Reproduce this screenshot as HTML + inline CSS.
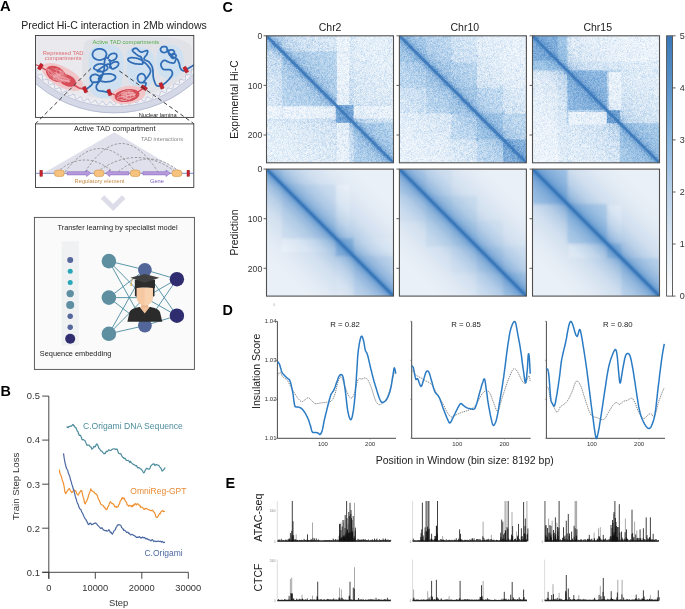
<!DOCTYPE html>
<html><head><meta charset="utf-8"><style>
html,body{margin:0;padding:0;background:#fff;}
body{width:685px;height:609px;overflow:hidden;}
svg{display:block;font-family:"Liberation Sans", sans-serif;will-change:transform;}
</style></head><body>
<svg width="685" height="609" viewBox="0 0 685 609">
<defs>
<clipPath id="cb1"><rect x="35.5" y="35.5" width="158.3" height="81.9"/></clipPath>
<filter id="nzw" x="0" y="0" width="1" height="1" color-interpolation-filters="sRGB">
<feTurbulence type="fractalNoise" baseFrequency="1.45" numOctaves="1" seed="4" result="t"/>
<feColorMatrix in="t" type="matrix" values="0 0 0 0 1  0 0 0 0 1  0 0 0 0 1  2.2 0 0 0 -0.7"/>
</filter>
<filter id="nzl" x="0" y="0" width="1" height="1" color-interpolation-filters="sRGB">
<feTurbulence type="fractalNoise" baseFrequency="0.33" numOctaves="2" seed="21" result="t"/>
<feColorMatrix in="t" type="matrix" values="0 0 0 0 1  0 0 0 0 1  0 0 0 0 1  4.0 0 0 0 -1.75"/>
</filter>
<filter id="nzb" x="0" y="0" width="1" height="1" color-interpolation-filters="sRGB">
<feTurbulence type="fractalNoise" baseFrequency="2.3" numOctaves="1" seed="9" result="t"/>
<feColorMatrix in="t" type="matrix" values="0 0 0 0 0.32  0 0 0 0 0.56  0 0 0 0 0.82  0 2.0 0 0 -0.75"/>
</filter>
<filter id="soft" x="-5%" y="-5%" width="110%" height="110%"><feGaussianBlur stdDeviation="1.3"/></filter>
<clipPath id="hc0"><rect x="266.5" y="35.8" width="127.0" height="127.0"/></clipPath>
<linearGradient id="dg0" x1="1" y1="0" x2="0" y2="1"><stop offset="0.0000" stop-color="#3a7cc0" stop-opacity="0.0"/><stop offset="0.1000" stop-color="#3a7cc0" stop-opacity="0.0"/><stop offset="0.2500" stop-color="#3a7cc0" stop-opacity="0.06"/><stop offset="0.4000" stop-color="#3a7cc0" stop-opacity="0.18"/><stop offset="0.4600" stop-color="#3a7cc0" stop-opacity="0.33"/><stop offset="0.4800" stop-color="#3a7cc0" stop-opacity="0.52"/><stop offset="0.4900" stop-color="#3a7cc0" stop-opacity="0.78"/><stop offset="0.5000" stop-color="#3a7cc0" stop-opacity="0.95"/><stop offset="0.5100" stop-color="#3a7cc0" stop-opacity="0.78"/><stop offset="0.5200" stop-color="#3a7cc0" stop-opacity="0.52"/><stop offset="0.5400" stop-color="#3a7cc0" stop-opacity="0.33"/><stop offset="0.6000" stop-color="#3a7cc0" stop-opacity="0.18"/><stop offset="0.7500" stop-color="#3a7cc0" stop-opacity="0.06"/><stop offset="0.9000" stop-color="#3a7cc0" stop-opacity="0.0"/><stop offset="1.0000" stop-color="#3a7cc0" stop-opacity="0.0"/></linearGradient>
<linearGradient id="dg0m" x1="1" y1="0" x2="0" y2="1"><stop offset="0.0000" stop-color="#000" stop-opacity="0.0"/><stop offset="0.1000" stop-color="#000" stop-opacity="0.0"/><stop offset="0.2500" stop-color="#000" stop-opacity="0.06"/><stop offset="0.4000" stop-color="#000" stop-opacity="0.18"/><stop offset="0.4600" stop-color="#000" stop-opacity="0.33"/><stop offset="0.4800" stop-color="#000" stop-opacity="0.52"/><stop offset="0.4900" stop-color="#000" stop-opacity="0.78"/><stop offset="0.5000" stop-color="#000" stop-opacity="0.95"/><stop offset="0.5100" stop-color="#000" stop-opacity="0.78"/><stop offset="0.5200" stop-color="#000" stop-opacity="0.52"/><stop offset="0.5400" stop-color="#000" stop-opacity="0.33"/><stop offset="0.6000" stop-color="#000" stop-opacity="0.18"/><stop offset="0.7500" stop-color="#000" stop-opacity="0.06"/><stop offset="0.9000" stop-color="#000" stop-opacity="0.0"/><stop offset="1.0000" stop-color="#000" stop-opacity="0.0"/></linearGradient>
<mask id="hm0" maskUnits="userSpaceOnUse" x="266.5" y="35.8" width="127.0" height="127.0"><rect x="266.5" y="35.8" width="127.0" height="127.0" fill="#fff"/><g opacity="0.6"><rect x="282.12" y="51.42" width="53.59" height="53.59" fill="#000" fill-opacity="0.45"/><rect x="266.50" y="35.80" width="15.62" height="15.62" fill="#000" fill-opacity="0.35"/><rect x="335.72" y="105.02" width="17.91" height="17.91" fill="#000" fill-opacity="0.85"/><rect x="353.62" y="122.92" width="39.88" height="39.88" fill="#000" fill-opacity="0.5"/><rect x="266.50" y="122.92" width="69.22" height="39.88" fill="#ffffff" fill-opacity="0.32"/><rect x="353.62" y="35.80" width="39.88" height="69.22" fill="#ffffff" fill-opacity="0.32"/><rect x="266.50" y="51.42" width="15.62" height="53.59" fill="#ffffff" fill-opacity="0.1"/><rect x="282.12" y="35.80" width="53.59" height="15.62" fill="#ffffff" fill-opacity="0.1"/><rect x="266.5" y="35.8" width="127.0" height="127.0" fill="url(#dg0m)"/><rect x="336.73" y="35.80" width="12.57" height="69.22" fill="#ffffff" fill-opacity="0.65"/><rect x="266.50" y="106.03" width="69.22" height="12.57" fill="#ffffff" fill-opacity="0.65"/><rect x="353.62" y="106.03" width="39.88" height="12.57" fill="#ffffff" fill-opacity="0.6"/><rect x="336.73" y="122.92" width="12.57" height="39.88" fill="#ffffff" fill-opacity="0.6"/><rect x="335.72" y="51.42" width="1.40" height="53.59" fill="#000" fill-opacity="0.35"/><rect x="282.12" y="105.02" width="53.59" height="1.40" fill="#000" fill-opacity="0.35"/><rect x="336.73" y="51.04" width="12.57" height="1.52" fill="#000" fill-opacity="0.3"/><rect x="281.74" y="106.03" width="1.52" height="12.57" fill="#000" fill-opacity="0.3"/></g></mask>
<clipPath id="hc1"><rect x="399.4" y="35.8" width="127.0" height="127.0"/></clipPath>
<linearGradient id="dg1" x1="1" y1="0" x2="0" y2="1"><stop offset="0.0000" stop-color="#3a7cc0" stop-opacity="0.0"/><stop offset="0.1000" stop-color="#3a7cc0" stop-opacity="0.0"/><stop offset="0.2500" stop-color="#3a7cc0" stop-opacity="0.06"/><stop offset="0.4000" stop-color="#3a7cc0" stop-opacity="0.18"/><stop offset="0.4600" stop-color="#3a7cc0" stop-opacity="0.33"/><stop offset="0.4800" stop-color="#3a7cc0" stop-opacity="0.52"/><stop offset="0.4900" stop-color="#3a7cc0" stop-opacity="0.78"/><stop offset="0.5000" stop-color="#3a7cc0" stop-opacity="0.95"/><stop offset="0.5100" stop-color="#3a7cc0" stop-opacity="0.78"/><stop offset="0.5200" stop-color="#3a7cc0" stop-opacity="0.52"/><stop offset="0.5400" stop-color="#3a7cc0" stop-opacity="0.33"/><stop offset="0.6000" stop-color="#3a7cc0" stop-opacity="0.18"/><stop offset="0.7500" stop-color="#3a7cc0" stop-opacity="0.06"/><stop offset="0.9000" stop-color="#3a7cc0" stop-opacity="0.0"/><stop offset="1.0000" stop-color="#3a7cc0" stop-opacity="0.0"/></linearGradient>
<linearGradient id="dg1m" x1="1" y1="0" x2="0" y2="1"><stop offset="0.0000" stop-color="#000" stop-opacity="0.0"/><stop offset="0.1000" stop-color="#000" stop-opacity="0.0"/><stop offset="0.2500" stop-color="#000" stop-opacity="0.06"/><stop offset="0.4000" stop-color="#000" stop-opacity="0.18"/><stop offset="0.4600" stop-color="#000" stop-opacity="0.33"/><stop offset="0.4800" stop-color="#000" stop-opacity="0.52"/><stop offset="0.4900" stop-color="#000" stop-opacity="0.78"/><stop offset="0.5000" stop-color="#000" stop-opacity="0.95"/><stop offset="0.5100" stop-color="#000" stop-opacity="0.78"/><stop offset="0.5200" stop-color="#000" stop-opacity="0.52"/><stop offset="0.5400" stop-color="#000" stop-opacity="0.33"/><stop offset="0.6000" stop-color="#000" stop-opacity="0.18"/><stop offset="0.7500" stop-color="#000" stop-opacity="0.06"/><stop offset="0.9000" stop-color="#000" stop-opacity="0.0"/><stop offset="1.0000" stop-color="#000" stop-opacity="0.0"/></linearGradient>
<mask id="hm1" maskUnits="userSpaceOnUse" x="399.4" y="35.8" width="127.0" height="127.0"><rect x="399.4" y="35.8" width="127.0" height="127.0" fill="#fff"/><g opacity="0.6"><rect x="399.40" y="35.80" width="26.67" height="26.67" fill="#000" fill-opacity="0.6"/><rect x="426.07" y="62.47" width="50.80" height="50.80" fill="#000" fill-opacity="0.45"/><rect x="426.07" y="62.47" width="25.40" height="25.40" fill="#000" fill-opacity="0.2"/><rect x="451.47" y="87.87" width="25.40" height="25.40" fill="#000" fill-opacity="0.2"/><rect x="476.87" y="113.27" width="26.16" height="26.16" fill="#000" fill-opacity="0.7"/><rect x="503.03" y="139.43" width="23.37" height="23.37" fill="#000" fill-opacity="0.75"/><rect x="399.40" y="62.47" width="26.67" height="25.40" fill="#000" fill-opacity="0.3"/><rect x="426.07" y="35.80" width="25.40" height="26.67" fill="#000" fill-opacity="0.3"/><rect x="451.47" y="113.27" width="25.40" height="26.16" fill="#000" fill-opacity="0.3"/><rect x="476.87" y="87.87" width="26.16" height="25.40" fill="#000" fill-opacity="0.3"/><rect x="476.87" y="139.43" width="26.16" height="23.37" fill="#000" fill-opacity="0.35"/><rect x="503.03" y="113.27" width="23.37" height="26.16" fill="#000" fill-opacity="0.35"/><rect x="426.07" y="35.80" width="50.80" height="26.67" fill="#000" fill-opacity="0.12"/><rect x="399.40" y="62.47" width="26.67" height="50.80" fill="#000" fill-opacity="0.12"/><rect x="399.40" y="113.27" width="52.07" height="49.53" fill="#ffffff" fill-opacity="0.35"/><rect x="476.87" y="35.80" width="49.53" height="52.07" fill="#ffffff" fill-opacity="0.35"/><rect x="451.47" y="35.80" width="25.40" height="26.67" fill="#ffffff" fill-opacity="0.1"/><rect x="399.40" y="87.87" width="26.67" height="25.40" fill="#ffffff" fill-opacity="0.1"/><rect x="503.03" y="35.80" width="23.37" height="77.47" fill="#ffffff" fill-opacity="0.15"/><rect x="399.40" y="139.43" width="77.47" height="23.37" fill="#ffffff" fill-opacity="0.15"/><rect x="415.91" y="86.60" width="2.54" height="2.54" fill="#000" fill-opacity="0.3"/><rect x="450.20" y="52.31" width="2.54" height="2.54" fill="#000" fill-opacity="0.3"/><rect x="450.20" y="59.93" width="2.54" height="2.54" fill="#000" fill-opacity="0.3"/><rect x="423.53" y="86.60" width="2.54" height="2.54" fill="#000" fill-opacity="0.3"/><rect x="475.60" y="54.85" width="2.54" height="2.54" fill="#000" fill-opacity="0.3"/><rect x="418.45" y="112.00" width="2.54" height="2.54" fill="#000" fill-opacity="0.3"/><rect x="475.60" y="86.60" width="2.54" height="2.54" fill="#000" fill-opacity="0.3"/><rect x="450.20" y="112.00" width="2.54" height="2.54" fill="#000" fill-opacity="0.3"/><rect x="501.76" y="112.00" width="2.54" height="2.54" fill="#000" fill-opacity="0.3"/><rect x="475.60" y="138.16" width="2.54" height="2.54" fill="#000" fill-opacity="0.3"/><rect x="501.76" y="112.00" width="2.54" height="2.54" fill="#000" fill-opacity="0.3"/><rect x="475.60" y="138.16" width="2.54" height="2.54" fill="#000" fill-opacity="0.3"/><rect x="450.20" y="136.13" width="2.54" height="2.54" fill="#000" fill-opacity="0.3"/><rect x="499.73" y="86.60" width="2.54" height="2.54" fill="#000" fill-opacity="0.3"/><rect x="399.4" y="35.8" width="127.0" height="127.0" fill="url(#dg1m)"/></g></mask>
<clipPath id="hc2"><rect x="532.5" y="35.8" width="127.0" height="127.0"/></clipPath>
<linearGradient id="dg2" x1="1" y1="0" x2="0" y2="1"><stop offset="0.0000" stop-color="#3a7cc0" stop-opacity="0.0"/><stop offset="0.1000" stop-color="#3a7cc0" stop-opacity="0.0"/><stop offset="0.2500" stop-color="#3a7cc0" stop-opacity="0.06"/><stop offset="0.4000" stop-color="#3a7cc0" stop-opacity="0.18"/><stop offset="0.4600" stop-color="#3a7cc0" stop-opacity="0.33"/><stop offset="0.4800" stop-color="#3a7cc0" stop-opacity="0.52"/><stop offset="0.4900" stop-color="#3a7cc0" stop-opacity="0.78"/><stop offset="0.5000" stop-color="#3a7cc0" stop-opacity="0.95"/><stop offset="0.5100" stop-color="#3a7cc0" stop-opacity="0.78"/><stop offset="0.5200" stop-color="#3a7cc0" stop-opacity="0.52"/><stop offset="0.5400" stop-color="#3a7cc0" stop-opacity="0.33"/><stop offset="0.6000" stop-color="#3a7cc0" stop-opacity="0.18"/><stop offset="0.7500" stop-color="#3a7cc0" stop-opacity="0.06"/><stop offset="0.9000" stop-color="#3a7cc0" stop-opacity="0.0"/><stop offset="1.0000" stop-color="#3a7cc0" stop-opacity="0.0"/></linearGradient>
<linearGradient id="dg2m" x1="1" y1="0" x2="0" y2="1"><stop offset="0.0000" stop-color="#000" stop-opacity="0.0"/><stop offset="0.1000" stop-color="#000" stop-opacity="0.0"/><stop offset="0.2500" stop-color="#000" stop-opacity="0.06"/><stop offset="0.4000" stop-color="#000" stop-opacity="0.18"/><stop offset="0.4600" stop-color="#000" stop-opacity="0.33"/><stop offset="0.4800" stop-color="#000" stop-opacity="0.52"/><stop offset="0.4900" stop-color="#000" stop-opacity="0.78"/><stop offset="0.5000" stop-color="#000" stop-opacity="0.95"/><stop offset="0.5100" stop-color="#000" stop-opacity="0.78"/><stop offset="0.5200" stop-color="#000" stop-opacity="0.52"/><stop offset="0.5400" stop-color="#000" stop-opacity="0.33"/><stop offset="0.6000" stop-color="#000" stop-opacity="0.18"/><stop offset="0.7500" stop-color="#000" stop-opacity="0.06"/><stop offset="0.9000" stop-color="#000" stop-opacity="0.0"/><stop offset="1.0000" stop-color="#000" stop-opacity="0.0"/></linearGradient>
<mask id="hm2" maskUnits="userSpaceOnUse" x="532.5" y="35.8" width="127.0" height="127.0"><rect x="532.5" y="35.8" width="127.0" height="127.0" fill="#fff"/><g opacity="0.6"><rect x="532.50" y="35.80" width="35.56" height="34.29" fill="#000" fill-opacity="0.5"/><rect x="532.50" y="35.80" width="34.29" height="35.56" fill="#000" fill-opacity="0.5"/><rect x="532.50" y="35.80" width="25.40" height="24.13" fill="#000" fill-opacity="0.35"/><rect x="532.50" y="35.80" width="24.13" height="25.40" fill="#000" fill-opacity="0.35"/><rect x="566.79" y="71.36" width="40.00" height="38.73" fill="#000" fill-opacity="0.6"/><rect x="568.06" y="70.09" width="38.73" height="40.00" fill="#000" fill-opacity="0.6"/><rect x="606.79" y="110.09" width="13.08" height="13.08" fill="#000" fill-opacity="0.9"/><rect x="619.88" y="123.18" width="39.62" height="39.62" fill="#000" fill-opacity="0.7"/><rect x="570.60" y="35.80" width="88.90" height="34.29" fill="#ffffff" fill-opacity="0.45"/><rect x="532.50" y="73.90" width="34.29" height="88.90" fill="#ffffff" fill-opacity="0.45"/><rect x="566.79" y="35.80" width="92.71" height="25.40" fill="#ffffff" fill-opacity="0.2"/><rect x="532.50" y="70.09" width="25.40" height="92.71" fill="#ffffff" fill-opacity="0.2"/><rect x="566.79" y="61.20" width="92.71" height="10.16" fill="#000" fill-opacity="0.12"/><rect x="557.90" y="70.09" width="10.16" height="92.71" fill="#000" fill-opacity="0.12"/><rect x="621.40" y="72.00" width="38.10" height="38.10" fill="#ffffff" fill-opacity="0.15"/><rect x="568.70" y="124.70" width="38.10" height="38.10" fill="#ffffff" fill-opacity="0.15"/><rect x="532.5" y="35.8" width="127.0" height="127.0" fill="url(#dg2m)"/><rect x="568.70" y="112.00" width="38.10" height="12.70" fill="#ffffff" fill-opacity="0.6"/><rect x="608.70" y="72.00" width="12.70" height="38.10" fill="#ffffff" fill-opacity="0.6"/><rect x="566.79" y="110.22" width="40.00" height="1.78" fill="#000" fill-opacity="0.35"/><rect x="606.92" y="70.09" width="1.78" height="40.00" fill="#000" fill-opacity="0.35"/><rect x="606.92" y="70.09" width="14.48" height="1.90" fill="#000" fill-opacity="0.35"/><rect x="566.79" y="110.22" width="1.90" height="14.48" fill="#000" fill-opacity="0.35"/></g></mask>
<clipPath id="hc3"><rect x="266.5" y="169.1" width="127.0" height="127.0"/></clipPath>
<linearGradient id="dg3" x1="1" y1="0" x2="0" y2="1"><stop offset="0.0000" stop-color="#3a7cc0" stop-opacity="0.0"/><stop offset="0.1500" stop-color="#3a7cc0" stop-opacity="0.0"/><stop offset="0.2500" stop-color="#3a7cc0" stop-opacity="0.05"/><stop offset="0.3500" stop-color="#3a7cc0" stop-opacity="0.15"/><stop offset="0.4100" stop-color="#3a7cc0" stop-opacity="0.28"/><stop offset="0.4550" stop-color="#3a7cc0" stop-opacity="0.45"/><stop offset="0.4780" stop-color="#3a7cc0" stop-opacity="0.6"/><stop offset="0.4900" stop-color="#3a7cc0" stop-opacity="0.8"/><stop offset="0.5000" stop-color="#3a7cc0" stop-opacity="0.95"/><stop offset="0.5100" stop-color="#3a7cc0" stop-opacity="0.8"/><stop offset="0.5220" stop-color="#3a7cc0" stop-opacity="0.6"/><stop offset="0.5450" stop-color="#3a7cc0" stop-opacity="0.45"/><stop offset="0.5900" stop-color="#3a7cc0" stop-opacity="0.28"/><stop offset="0.6500" stop-color="#3a7cc0" stop-opacity="0.15"/><stop offset="0.7500" stop-color="#3a7cc0" stop-opacity="0.05"/><stop offset="0.8500" stop-color="#3a7cc0" stop-opacity="0.0"/><stop offset="1.0000" stop-color="#3a7cc0" stop-opacity="0.0"/></linearGradient>
<clipPath id="hc4"><rect x="399.4" y="169.1" width="127.0" height="127.0"/></clipPath>
<linearGradient id="dg4" x1="1" y1="0" x2="0" y2="1"><stop offset="0.0000" stop-color="#3a7cc0" stop-opacity="0.0"/><stop offset="0.1500" stop-color="#3a7cc0" stop-opacity="0.0"/><stop offset="0.2500" stop-color="#3a7cc0" stop-opacity="0.05"/><stop offset="0.3500" stop-color="#3a7cc0" stop-opacity="0.15"/><stop offset="0.4100" stop-color="#3a7cc0" stop-opacity="0.28"/><stop offset="0.4550" stop-color="#3a7cc0" stop-opacity="0.45"/><stop offset="0.4780" stop-color="#3a7cc0" stop-opacity="0.6"/><stop offset="0.4900" stop-color="#3a7cc0" stop-opacity="0.8"/><stop offset="0.5000" stop-color="#3a7cc0" stop-opacity="0.95"/><stop offset="0.5100" stop-color="#3a7cc0" stop-opacity="0.8"/><stop offset="0.5220" stop-color="#3a7cc0" stop-opacity="0.6"/><stop offset="0.5450" stop-color="#3a7cc0" stop-opacity="0.45"/><stop offset="0.5900" stop-color="#3a7cc0" stop-opacity="0.28"/><stop offset="0.6500" stop-color="#3a7cc0" stop-opacity="0.15"/><stop offset="0.7500" stop-color="#3a7cc0" stop-opacity="0.05"/><stop offset="0.8500" stop-color="#3a7cc0" stop-opacity="0.0"/><stop offset="1.0000" stop-color="#3a7cc0" stop-opacity="0.0"/></linearGradient>
<clipPath id="hc5"><rect x="532.5" y="169.1" width="127.0" height="127.0"/></clipPath>
<linearGradient id="dg5" x1="1" y1="0" x2="0" y2="1"><stop offset="0.0000" stop-color="#3a7cc0" stop-opacity="0.0"/><stop offset="0.1500" stop-color="#3a7cc0" stop-opacity="0.0"/><stop offset="0.2500" stop-color="#3a7cc0" stop-opacity="0.05"/><stop offset="0.3500" stop-color="#3a7cc0" stop-opacity="0.15"/><stop offset="0.4100" stop-color="#3a7cc0" stop-opacity="0.28"/><stop offset="0.4550" stop-color="#3a7cc0" stop-opacity="0.45"/><stop offset="0.4780" stop-color="#3a7cc0" stop-opacity="0.6"/><stop offset="0.4900" stop-color="#3a7cc0" stop-opacity="0.8"/><stop offset="0.5000" stop-color="#3a7cc0" stop-opacity="0.95"/><stop offset="0.5100" stop-color="#3a7cc0" stop-opacity="0.8"/><stop offset="0.5220" stop-color="#3a7cc0" stop-opacity="0.6"/><stop offset="0.5450" stop-color="#3a7cc0" stop-opacity="0.45"/><stop offset="0.5900" stop-color="#3a7cc0" stop-opacity="0.28"/><stop offset="0.6500" stop-color="#3a7cc0" stop-opacity="0.15"/><stop offset="0.7500" stop-color="#3a7cc0" stop-opacity="0.05"/><stop offset="0.8500" stop-color="#3a7cc0" stop-opacity="0.0"/><stop offset="1.0000" stop-color="#3a7cc0" stop-opacity="0.0"/></linearGradient>
<linearGradient id="cbg" x1="0" y1="1" x2="0" y2="0"><stop offset="0" stop-color="#ffffff"/><stop offset="0.2" stop-color="#dfe9f4"/><stop offset="0.4" stop-color="#b9d2ea"/><stop offset="0.6" stop-color="#8ab7e0"/><stop offset="0.8" stop-color="#5b95cc"/><stop offset="1" stop-color="#3a77b7"/></linearGradient>
</defs>
<rect width="685" height="609" fill="#fff"/>
<text x="21.2" y="28.9" font-size="10.5" fill="#222" text-anchor="start" font-weight="normal">Predict Hi-C interaction in 2Mb windows</text>
<g clip-path="url(#cb1)">
<rect x="35.5" y="35.5" width="158.3" height="81.9" fill="#ffffff"/>
<circle cx="114.0" cy="-6.6" r="113" fill="#f1f1f4"/>
<circle cx="114.0" cy="-6.6" r="109.5" fill="#e9e9ee"/>
<path d="M84,44 C86,36 120,36 150,37 C175,37 192,40 192,50 L192,72 C180,82 160,92 140,96 C120,99 100,100 88,96 C80,85 82,60 84,44 Z" fill="#e1e2e8"/>
<circle cx="114.0" cy="-6.6" r="116.4" fill="none" stroke="#d4d8e7" stroke-width="6.6"/>
<circle cx="114.0" cy="-6.6" r="119.5" fill="none" stroke="#b3b9cf" stroke-width="0.9"/>
<circle cx="114.0" cy="-6.6" r="113.3" fill="none" stroke="#bcc2d6" stroke-width="0.8"/>
<path d="M218.9,27.5 L220.0,29.3 L219.3,30.6 L217.0,31.2 L215.4,32.1 L215.7,33.7 L217.0,35.7 L217.1,37.3 L215.4,38.0 L213.1,38.5 L212.3,39.7 L213.3,41.6 L214.1,43.6 L213.1,44.7 L210.8,45.0 L209.1,45.7 L209.2,47.3 L210.2,49.5 L210.1,51.0 L208.2,51.5 L205.9,51.7 L205.1,52.8 L205.7,54.9 L206.2,56.9 L205.1,57.8 L202.7,57.8 L201.0,58.3 L200.9,60.0 L201.6,62.2 L201.2,63.7 L199.2,63.9 L197.0,63.8 L196.0,64.8 L196.4,67.0 L196.6,69.0 L195.3,69.7 L192.9,69.4 L191.2,69.6 L191.0,71.3 L191.3,73.7 L190.7,75.1 L188.7,74.9 L186.4,74.5 L185.4,75.5 L185.5,77.7 L185.4,79.7 L184.0,80.2 L181.7,79.5 L180.0,79.5 L179.5,81.3 L179.6,83.6 L178.7,84.8 L176.7,84.4 L174.6,83.7 L173.5,84.6 L173.3,86.8 L172.8,88.8 L171.3,88.9 L169.1,88.0 L167.5,87.8 L166.8,89.5 L166.5,91.8 L165.5,92.9 L163.5,92.1 L161.5,91.2 L160.4,91.9 L159.9,94.2 L159.2,96.0 L157.6,95.9 L155.5,94.6 L153.9,94.3 L153.1,95.9 L152.5,98.2 L151.3,99.0 L149.4,97.9 L147.6,96.8 L146.4,97.4 L145.6,99.6 L144.6,101.2 L143.0,100.8 L141.2,99.3 L139.7,98.8 L138.6,100.4 L137.7,102.5 L136.4,103.1 L134.7,101.7 L133.0,100.4 L131.7,100.9 L130.7,103.0 L129.4,104.4 L127.9,103.7 L126.3,102.0 L124.9,101.4 L123.7,102.8 L122.4,104.8 L121.0,105.1 L119.5,103.5 L118.1,101.9 L116.7,102.4 L115.4,104.3 L114.0,105.5 L112.6,104.6 L111.3,102.6 L109.9,101.9 L108.5,103.2 L107.0,104.9 L105.6,104.9 L104.3,103.1 L103.1,101.5 L101.7,101.8 L100.1,103.5 L98.6,104.4 L97.3,103.2 L96.2,101.1 L95.0,100.3 L93.4,101.5 L91.7,102.9 L90.3,102.7 L89.3,100.7 L88.3,98.9 L86.9,99.1 L85.0,100.6 L83.4,101.2 L82.4,99.8 L81.6,97.6 L80.4,96.7 L78.7,97.6 L76.8,98.9 L75.5,98.3 L74.8,96.2 L74.0,94.3 L72.5,94.4 L70.5,95.6 L68.8,96.0 L68.0,94.4 L67.6,92.1 L66.5,91.1 L64.6,91.8 L62.6,92.8 L61.4,92.0 L61.0,89.7 L60.5,87.9 L59.0,87.8 L56.8,88.7 L55.1,88.8 L54.6,87.0 L54.4,84.7 L53.5,83.6 L51.5,84.2 L49.4,84.7 L48.3,83.8 L48.3,81.5 L48.0,79.6 L46.5,79.3 L44.2,80.0 L42.6,79.8 L42.3,77.9 L42.5,75.6 L41.6,74.4 L39.5,74.7 L37.4,75.0 L36.5,73.8 L36.9,71.5 L36.8,69.7 L35.2,69.2 L32.9,69.6 L31.3,69.1 L31.4,67.2 L31.8,64.9 L31.1,63.7 L29.0,63.7 L26.8,63.7 L26.2,62.4 L26.9,60.1 L27.0,58.3 L25.5,57.7 L23.1,57.7 L21.7,57.0 L22.0,55.1 L22.8,52.9 L22.2,51.7 L20.0,51.4 L18.0,51.0 L17.6,49.6 L18.6,47.4 L18.9,45.7 L17.4,44.9 L15.1,44.6 L13.8,43.6 L14.5,41.8 L15.5,39.7 L15.0,38.5 L12.9,37.9 L10.9,37.2 L10.8,35.8 L12.1,33.7 L12.6,32.1 L11.2,31.1 L8.9,30.5 L7.9,29.4 L8.8,27.6" fill="none" stroke="#aab3d3" stroke-width="0.65"/>
<path d="M90,52 C92,42 110,42 119,48 C126,55 124,70 122,82 C121,92 112,100 100,98 C90,96 88,86 89,75 C89,66 88,58 90,52 Z" fill="#cfe1f1"/>
<path d="M127,52 C130,45 146,45 152,52 C157,60 154,72 153,80 C151,88 140,90 133,86 C126,80 126,70 127,62 Z" fill="#cfe1f1"/>
<path d="M158,50 C160,43 176,43 181,50 C186,58 184,70 178,76 C172,80 162,80 158,72 C155,64 156,56 158,50 Z" fill="#cfe1f1"/>
<ellipse cx="62.5" cy="77" rx="23" ry="10" transform="rotate(28 62.5 77)" fill="#f1c6c9"/>
<ellipse cx="128" cy="95" rx="17.5" ry="9" transform="rotate(-8 128 95)" fill="#f1c6c9"/>
<path d="M30,62 L40.4,66.7 L46,70" fill="none" stroke="#d03e4a" stroke-width="1.1"/>
<ellipse cx="56" cy="74" rx="11" ry="7.2" transform="rotate(30 56 74)" fill="#d64d58"/>
<ellipse cx="67.5" cy="80.5" rx="9" ry="5.6" transform="rotate(25 67.5 80.5)" fill="#d64d58"/>
<path d="M51.7,68.2 L53.7,68.9 L56.6,70.0 L59.7,71.1 L62.4,72.1 L64.0,72.6 L64.1,72.3 L63.0,71.5 L61.5,70.5 L60.3,69.9 L59.8,70.2 L60.5,71.6 L61.8,74.0 L63.5,76.7 L65.1,79.2 L66.3,80.7 L67.1,81.2 L67.8,81.0 L68.4,80.5 L68.6,79.8 L68.4,79.2 L67.8,78.7 L66.7,78.2 L65.3,77.6 L63.7,77.0 L62.0,76.4 L60.1,75.7 L57.7,74.9 L55.3,74.2 L53.1,73.4 L51.5,72.7 L50.2,71.8 L49.2,70.8 L48.5,69.8 L48.5,69.3 L49.2,69.5 L51.5,70.7 L55.1,72.8 L59.0,75.2 L62.3,77.4 L63.8,78.9 L63.0,79.6 L60.6,79.9 L57.4,79.9 L54.6,79.6 L53.2,79.1 L53.5,78.3 L54.8,77.1 L56.6,75.7 L58.4,74.5 L59.6,73.7 L60.2,73.5 L60.6,73.7 L60.7,74.0 L60.7,74.3 L60.4,74.4 L59.4,74.0 L57.8,73.3 L56.2,72.6 L55.1,72.2 L55.3,72.5 L57.4,73.8 L61.0,76.0 L65.0,78.5 L68.4,80.7 L69.9,81.9 L68.9,82.0 L66.0,81.2 L62.5,80.1 L59.5,79.1 L58.3,78.6 L59.6,78.8 L62.8,79.5 L66.4,80.3 L69.3,81.0 L70.2,81.3 L68.3,81.2 L64.5,81.0 L59.9,80.5 L55.5,79.8 L52.3,78.7 L50.4,76.9 L49.0,74.3 L48.2,71.6 L48.0,69.6 L48.3,69.0 L49.7,70.6 L52.2,73.9 L55.0,77.7 L57.5,80.9 L58.9,82.1 L59.0,80.7 L58.2,77.5 L56.9,73.6 L56.0,70.1 L55.9,68.4 L57.2,68.8 L59.4,70.6 L61.8,73.0 L63.8,75.3 L64.4,76.7 L63.3,77.0 L60.8,76.7 L57.8,76.1 L55.2,75.5 L53.8,75.3 L54.1,75.6 L55.5,76.1 L57.3,76.7 L58.8,77.2 L59.4,77.6 L58.5,77.7 L56.6,77.6 L54.5,77.4 L52.9,77.4 L52.8,77.6 L55.0,78.2 L59.0,79.2 L63.4,80.2 L67.0,81.0 L68.5,81.2 L67.0,80.7 L63.3,79.6 L58.8,78.2 L54.9,76.9 L53.0,75.9 L53.7,75.3 L56.3,74.8 L59.5,74.4 L62.3,74.2 L63.4,74.2 L62.4,74.6 L59.9,75.2 L56.9,76.0 L54.2,76.6 L52.7,76.9 L52.8,76.5 L53.7,75.8 L55.2,74.9 L56.7,74.2 L57.8,73.9 L58.4,74.2 L58.9,74.9 L59.4,75.7 L59.7,76.3 L60.0,76.4 L60.1,75.5 L59.9,73.9 L59.8,72.2 L59.9,71.0 L60.5,70.8 L62.1,72.2 L64.6,74.9 L67.2,78.0 L68.9,80.7 L69.0,82.0 L66.5,81.6 L61.9,80.1 L56.8,78.0 L52.3,76.1 L50.0,74.9 L50.4,74.7 L52.6,74.9 L55.8,75.5 L58.8,76.2 L60.7,77.0 L61.5,78.1 L61.6,79.4 L61.4,80.8 L61.1,82.1 L60.8,82.8 L60.5,83.1 L59.8,82.9 L59.2,82.5 L59.0,82.1 L59.4,81.7 L61.3,81.3 L64.3,80.9 L67.5,80.4 L69.8,79.9 L70.4,79.3 L68.4,78.8 L64.6,78.2 L60.0,77.5 L55.6,76.7 L52.4,75.8 L50.2,74.3 L48.3,72.2 L47.0,70.3 L46.6,69.0 L47.2,68.9 L49.6,70.6 L53.6,73.6 L58.2,77.3 L62.3,80.6 L65.1,82.9" fill="none" stroke="#efaab0" stroke-width="0.5"/>
<path d="M73,84.5 L79,88 L85.1,89.6" fill="none" stroke="#d6505b" stroke-width="1.6"/>
<ellipse cx="127" cy="95.5" rx="12.5" ry="6.3" transform="rotate(-8 127 95.5)" fill="#d44a55"/>
<path d="M129.0,90.8 L127.7,91.7 L125.5,93.1 L123.3,94.5 L121.7,95.8 L121.5,96.5 L123.5,96.5 L127.2,95.9 L131.4,95.1 L134.7,94.5 L135.9,94.3 L134.0,94.6 L130.0,95.3 L125.1,96.1 L120.6,96.9 L117.8,97.6 L117.0,98.1 L117.3,98.6 L118.4,98.9 L119.7,99.3 L120.8,99.5 L121.8,99.9 L123.1,100.3 L124.4,100.5 L125.5,100.5 L126.2,100.1 L126.6,98.9 L126.8,97.1 L126.7,95.1 L126.3,93.4 L125.7,92.5 L124.3,92.4 L122.2,93.0 L120.1,93.9 L118.5,95.0 L118.1,95.8 L119.5,96.5 L122.3,97.3 L125.5,98.1 L128.5,98.5 L130.3,98.6 L130.8,97.9 L130.5,96.7 L129.8,95.2 L129.0,93.9 L128.6,92.8 L128.6,92.2 L128.7,91.7 L129.0,91.4 L129.2,91.3 L129.4,91.2 L129.5,91.3 L129.5,91.4 L129.6,91.7 L129.7,92.1 L130.2,92.6 L131.1,93.4 L132.5,94.5 L134.0,95.6 L135.1,96.5 L135.5,96.8 L134.8,96.3 L133.3,95.1 L131.5,93.7 L129.9,92.6 L129.0,92.0 L129.1,92.4 L129.8,93.3 L130.7,94.5 L131.3,95.6 L131.2,96.2 L129.9,96.1 L127.6,95.7 L125.2,95.1 L123.4,94.5 L122.8,94.0 L124.2,93.7 L127.0,93.3 L130.2,93.0 L133.1,93.0 L134.8,93.2 L135.0,94.0 L134.4,95.3 L133.2,96.7 L131.7,98.0 L130.2,98.9 L128.3,99.6 L125.7,100.2 L123.2,100.5 L121.3,100.5 L120.8,100.1 L122.3,99.1 L125.4,97.4 L129.0,95.5 L132.1,93.8 L133.3,92.7 L132.1,92.3 L129.1,92.4 L125.5,92.7 L122.4,93.0 L120.9,93.0 L121.5,92.6 L123.3,91.8 L125.8,91.1 L128.2,90.5 L130.0,90.4 L131.3,90.9 L132.6,92.0 L133.5,93.3 L133.9,94.4 L133.5,95.1 L131.9,95.3 L129.3,95.2 L126.3,95.0 L123.6,94.7 L121.9,94.5 L121.4,94.6 L121.5,94.9 L122.2,95.1 L123.1,95.2 L124.1,95.1 L125.5,94.6 L127.3,93.8 L129.3,93.0 L131.1,92.4 L132.4,92.2 L133.3,92.8 L134.0,93.9 L134.4,95.2 L134.4,96.4 L134.0,97.3 L132.8,97.7 L131.0,97.9 L128.9,97.9 L126.9,97.9 L125.4,97.8 L124.4,97.5 L123.6,97.1 L123.0,96.6 L122.8,96.3 L123.0,96.3 L123.9,96.7 L125.5,97.4 L127.3,98.3 L129.0,99.1 L130.2,99.6" fill="none" stroke="#f2b7bc" stroke-width="0.55"/>
<path d="M109.4,92.5 L115,95" fill="none" stroke="#d03e4a" stroke-width="1.1"/>
<path d="M138,92 L144.1,87.8" fill="none" stroke="#d03e4a" stroke-width="1.1"/>
<path d="M85.3,89.6 L85.8,89.3 L86.5,88.9 L87.4,88.4 L88.2,87.8 L89.0,87.2 L89.8,86.5 L90.7,85.8 L91.5,85.0 L92.1,84.2 L92.5,83.5 L92.5,82.8 L92.2,82.2 L91.7,81.6 L91.3,81.0 L90.9,80.4 L90.7,79.8 L90.5,79.3 L90.4,78.7 L90.3,78.2 L90.4,77.7 L90.5,77.2 L90.8,76.7 L91.1,76.2 L91.6,75.7 L92.0,75.3 L92.5,75.0 L93.1,74.8 L93.8,74.6 L94.5,74.4 L95.1,74.4 L95.7,74.4 L96.4,74.6 L97.1,74.8 L97.7,75.0 L98.2,75.3 L98.6,75.7 L99.1,76.2 L99.4,76.7 L99.7,77.2 L99.8,77.7 L99.9,78.2 L99.9,78.8 L99.7,79.4 L99.5,79.9 L99.3,80.4 L98.9,80.8 L98.4,81.3 L97.9,81.6 L97.3,81.9 L96.7,82.2 L96.0,82.3 L95.0,82.3 L94.1,82.3 L93.5,82.2 L93.5,82.2 L94.2,82.1 L95.5,82.2 L97.0,82.1 L98.5,81.9 L99.5,81.5 L99.9,80.7 L99.9,79.5 L99.8,78.2 L99.8,77.0 L100.0,76.1 L100.6,75.4 L101.4,75.0 L102.3,74.7 L103.2,74.5 L104.2,74.2 L105.1,74.0 L106.2,73.9 L107.3,73.8 L108.4,73.8 L109.4,73.8 L110.4,73.9 L111.3,74.0 L112.2,74.3 L113.0,74.5 L113.7,74.9 L114.3,75.2 L114.8,75.6 L115.2,76.1 L115.5,76.6 L115.6,77.1 L115.5,77.5 L115.4,78.1 L115.1,78.6 L114.7,79.1 L114.2,79.5 L113.5,80.0 L112.8,80.4 L111.9,80.8 L111.0,81.1 L110.0,81.4 L109.1,81.6 L108.0,81.7 L106.9,81.8 L105.8,81.8 L104.8,81.8 L103.8,81.7 L102.9,81.6 L102.0,81.3 L101.2,81.1 L100.5,80.7 L99.8,80.4 L99.2,80.1 L98.8,79.8 L98.6,79.2 L98.6,78.5 L99.3,77.5 L100.5,76.3 L101.9,74.9 L102.8,73.6 L103.0,72.5 L102.0,71.7 L100.2,71.0 L98.1,70.3 L96.0,69.8 L94.7,69.2 L94.1,68.7 L93.8,68.2 L93.9,67.8 L94.0,67.3 L94.2,66.9 L94.5,66.5 L94.8,66.0 L95.3,65.6 L95.8,65.2 L96.3,64.9 L97.0,64.6 L97.7,64.3 L98.6,64.1 L99.4,64.0 L100.2,63.9 L101.0,63.9 L101.9,64.0 L102.7,64.1 L103.6,64.2 L104.3,64.4 L105.0,64.7 L105.6,65.0 L106.2,65.4 L106.7,65.7 L107.1,66.2 L107.4,66.6 L107.6,67.1 L107.7,67.5 L107.7,68.0 L107.6,68.5 L107.3,68.9 L107.0,69.4 L106.5,69.8 L106.0,70.2 L105.5,70.5 L104.8,70.8 L104.1,71.1 L103.2,71.3 L102.4,71.4 L101.6,71.5 L100.6,71.6 L99.3,71.7 L98.1,71.7 L97.4,71.5 L97.5,71.0 L98.8,69.8 L101.0,68.1 L103.6,66.3 L106.1,64.8 L108.0,64.0 L109.2,64.3 L110.1,65.3 L110.8,66.6 L111.3,67.9 L111.9,68.7 L112.6,68.9 L113.2,68.9 L113.8,68.7 L114.4,68.4 L114.9,68.1 L115.5,67.8 L116.1,67.4 L116.6,67.0 L117.1,66.6 L117.5,66.2 L117.9,65.7 L118.2,65.2 L118.4,64.7 L118.5,64.2 L118.6,63.8 L118.6,63.4 L118.4,63.0 L118.2,62.6 L117.9,62.3 L117.6,62.1 L117.2,61.9 L116.7,61.8 L116.2,61.7 L115.6,61.8 L115.0,61.8 L114.4,62.0 L113.8,62.2 L113.2,62.5 L112.6,62.8 L112.1,63.1 L111.6,63.5 L111.1,64.0 L110.7,64.5 L110.3,65.0 L110.1,65.4 L110.0,66.0 L109.9,66.7 L110.0,67.4 L110.0,67.8 L110.0,67.6 L110.0,66.7 L110.1,65.1 L110.1,63.3 L110.1,61.6 L110.0,60.5 L109.8,60.0 L109.5,59.9 L109.2,60.0 L109.0,60.2 L109.1,60.3 L109.4,60.4 L109.9,60.5 L110.5,60.7 L111.1,60.8 L111.8,60.8 L112.3,60.6 L113.0,60.4 L113.6,60.2 L114.2,59.9 L114.7,59.5 L115.2,59.1 L115.7,58.6 L116.1,58.1 L116.4,57.6 L116.6,57.1 L116.8,56.6 L116.8,56.1 L116.8,55.6 L116.7,55.1 L116.6,54.7 L116.3,54.3 L115.9,54.0 L115.5,53.8 L115.0,53.6 L114.5,53.4 L114.0,53.4 L113.4,53.4 L112.7,53.5 L112.1,53.7 L111.5,53.9 L110.9,54.2 L110.3,54.5 L109.8,54.9 L109.3,55.4 L108.9,55.8 L108.6,56.4 L108.4,57.0 L108.3,57.6 L108.2,58.1 L107.9,58.4 L107.6,58.4 L107.3,58.1 L106.9,57.8 L106.5,57.6 L106.0,57.5 L105.5,57.7 L104.9,58.1 L104.3,58.5 L103.6,58.9 L103.0,59.2 L102.3,59.5 L101.6,59.7 L100.9,59.9 L100.2,60.0 L99.5,60.0 L98.8,60.0 L98.1,59.9 L97.3,59.7 L96.6,59.5 L96.0,59.2 L95.4,58.9 L94.8,58.6 L94.3,58.1 L93.8,57.7 L93.4,57.2 L93.1,56.7 L92.9,56.1 L92.7,55.6 L92.5,55.0 L92.5,54.4 L92.5,53.8 L92.7,53.2 L92.9,52.7 L93.1,52.1 L93.4,51.6 L93.8,51.1 L94.3,50.7 L94.8,50.2 L95.4,49.9 L96.0,49.6 L96.6,49.3 L97.3,49.1 L98.1,48.9 L98.8,48.8 L99.5,48.8 L100.2,48.8 L100.9,48.9 L101.7,49.1 L102.4,49.3 L103.0,49.6 L103.6,49.9 L104.2,50.2 L104.7,50.7 L105.2,51.1 L105.6,51.6 L105.9,52.1 L106.1,52.7 L106.3,53.2 L106.5,53.8 L106.5,54.4 L106.4,54.9 L106.3,55.4 L106.0,55.9 L105.8,56.5 L105.6,57.2 L105.3,58.0 L105.1,58.8 L104.9,59.8 L104.7,60.8 L104.5,62.0 L104.4,63.4 L104.4,64.9 L104.4,66.6 L104.3,68.3 L104.0,70.0 L103.6,71.8 L103.1,73.6 L102.4,75.5 L101.7,77.3 L101.0,79.0 L100.1,80.5 L99.0,81.9 L98.0,83.2 L97.1,84.4 L96.5,85.5 L96.3,86.6 L96.3,87.6 L96.5,88.5 L96.9,89.3 L97.5,90.0 L98.4,90.5 L99.5,90.8 L100.9,91.0 L102.2,91.2 L103.5,91.4 L104.8,91.7 L106.2,91.9 L107.5,92.2 L108.6,92.4 L109.4,92.5" fill="none" stroke="#2f6cb5" stroke-width="1.75" stroke-linejoin="round"/>
<path d="M144.1,87.8 L144.5,87.1 L145.1,86.0 L145.7,84.8 L146.0,83.8 L146.0,83.0 L145.4,82.7 L144.3,82.6 L143.0,82.7 L141.8,82.7 L140.8,82.6 L140.1,82.4 L139.6,82.2 L139.1,81.9 L138.8,81.5 L138.4,81.1 L138.1,80.6 L137.9,80.0 L137.7,79.4 L137.5,78.8 L137.5,78.2 L137.5,77.6 L137.7,77.0 L137.9,76.4 L138.1,75.8 L138.4,75.3 L138.8,74.9 L139.3,74.5 L139.8,74.2 L140.3,73.9 L140.8,73.8 L141.3,73.7 L141.9,73.7 L142.5,73.9 L143.0,74.0 L143.5,74.3 L143.9,74.6 L144.4,75.1 L144.7,75.6 L145.0,76.1 L145.3,76.7 L145.4,77.2 L145.5,77.9 L145.5,78.5 L145.4,79.2 L145.3,79.7 L144.9,80.5 L144.3,81.3 L143.7,82.1 L143.3,82.4 L143.5,82.1 L144.5,80.8 L146.2,78.8 L148.0,76.4 L149.6,74.0 L150.5,72.0 L150.5,70.3 L149.9,68.8 L149.1,67.4 L148.1,66.1 L147.2,65.0 L146.4,64.1 L145.6,63.4 L144.8,62.8 L144.1,62.3 L143.4,61.7 L142.8,61.3 L142.4,60.8 L142.0,60.5 L141.6,60.1 L141.0,59.8 L140.2,59.4 L139.4,59.1 L138.4,58.7 L137.5,58.5 L136.6,58.2 L135.6,58.0 L134.6,57.9 L133.6,57.8 L132.7,57.7 L131.8,57.7 L131.0,57.7 L130.3,57.8 L129.6,58.0 L129.0,58.2 L128.5,58.4 L128.2,58.7 L128.0,59.0 L127.9,59.3 L127.9,59.7 L128.0,60.1 L128.3,60.4 L128.7,60.8 L129.2,61.3 L129.8,61.7 L130.4,62.0 L131.2,62.4 L132.0,62.7 L133.0,63.1 L133.9,63.3 L134.8,63.6 L135.8,63.8 L136.8,63.9 L137.8,64.0 L138.7,64.1 L139.6,64.1 L140.4,64.1 L141.3,64.2 L142.0,64.1 L142.6,63.9 L142.9,63.4 L142.8,62.4 L142.5,61.0 L142.0,59.4 L141.5,58.0 L141.0,57.0 L140.6,56.5 L140.3,56.4 L140.0,56.5 L139.5,56.4 L138.8,56.0 L137.6,55.2 L136.1,54.1 L134.5,52.8 L133.2,51.6 L132.5,50.7 L132.5,49.9 L133.1,49.2 L134.0,48.6 L135.0,48.3 L136.0,48.2 L136.9,48.6 L137.8,49.5 L138.8,50.6 L139.9,51.5 L141.0,52.0 L142.3,52.0 L143.7,51.5 L145.1,51.0 L146.4,50.6 L147.2,50.5 L147.6,50.9 L147.7,51.5 L147.6,52.2 L147.3,53.1 L147.0,54.0 L146.5,55.0 L145.6,56.0 L144.8,57.1 L144.1,58.2 L144.0,59.1 L144.5,59.8 L145.5,60.3 L146.7,60.7 L148.0,61.3 L149.0,62.0 L149.8,62.9 L150.6,64.0 L151.4,65.2 L152.0,66.5 L152.5,68.0 L152.8,69.8 L153.0,71.8 L153.1,74.0 L153.2,76.1 L153.5,78.0 L153.9,79.8 L154.5,81.5 L155.1,83.1 L155.7,84.5 L156.5,85.5 L157.5,86.0 L158.6,86.2 L159.8,86.0 L160.8,85.9 L161.5,85.8" fill="none" stroke="#2f6cb5" stroke-width="1.75" stroke-linejoin="round"/>
<path d="M161.5,85.8 L162.3,85.2 L163.4,84.4 L164.7,83.4 L166.0,82.3 L167.2,81.2 L168.4,80.0 L169.6,78.6 L170.8,77.1 L171.7,75.7 L172.3,74.5 L172.4,73.4 L172.3,72.3 L171.9,71.3 L171.2,70.4 L170.4,69.8 L169.3,69.5 L167.8,69.6 L166.2,69.7 L164.7,69.7 L163.5,69.4 L162.6,68.7 L161.9,67.7 L161.3,66.5 L161.0,65.4 L160.9,64.4 L161.1,63.4 L161.7,62.4 L162.4,61.5 L163.2,60.8 L164.1,60.4 L165.0,60.4 L166.1,60.8 L167.1,61.4 L168.2,61.9 L169.3,62.3 L170.4,62.6 L171.4,62.8 L172.5,63.0 L173.4,63.0 L174.2,62.8 L174.8,62.2 L175.2,61.3 L175.5,60.2 L175.7,59.2 L175.8,58.5 L175.8,58.1 L175.7,57.9 L175.5,57.9 L175.4,57.8 L175.3,57.6 L175.4,57.3 L175.6,57.0 L175.8,56.7 L176.0,56.3 L176.1,56.0 L176.1,55.7 L176.0,55.3 L175.8,55.0 L175.6,54.6 L175.3,54.4 L175.0,54.2 L174.7,54.0 L174.3,53.8 L173.9,53.7 L173.5,53.7 L173.1,53.7 L172.7,53.8 L172.3,54.0 L172.0,54.2 L171.7,54.4 L171.4,54.6 L171.2,55.0 L171.0,55.3 L170.9,55.7 L170.9,56.0 L170.9,56.3 L171.0,56.7 L171.2,57.0 L171.4,57.4 L171.7,57.6 L172.0,57.9 L172.6,58.2 L173.1,58.4 L173.4,58.4 L173.5,58.3 L173.2,57.9 L172.6,57.1 L171.8,56.3 L171.1,55.6 L170.5,55.0 L170.1,54.7 L169.9,54.6 L169.7,54.5 L169.5,54.4 L169.3,54.2 L169.1,53.9 L168.8,53.6 L168.6,53.2 L168.5,52.8 L168.4,52.4 L168.4,52.0 L168.6,51.6 L168.8,51.2 L169.0,50.9 L169.3,50.6 L169.6,50.3 L170.0,50.1 L170.5,49.9 L171.0,49.8 L171.4,49.8 L171.8,49.8 L172.3,49.9 L172.8,50.1 L173.2,50.3 L173.5,50.6 L173.8,50.9 L174.0,51.2 L174.2,51.6 L174.4,52.0 L174.4,52.4 L174.4,52.8 L174.2,53.2 L174.0,53.6 L173.8,53.9 L173.5,54.2 L173.2,54.5 L172.8,54.8 L172.4,55.1 L172.0,55.2 L171.4,55.0 L170.7,54.5 L169.8,53.7 L168.9,52.8 L168.1,51.8 L167.5,51.0 L167.2,50.2 L167.1,49.5 L167.1,48.7 L167.0,48.1 L166.9,47.6 L166.5,47.2 L166.1,46.9 L165.7,46.7 L165.2,46.6 L164.7,46.5 L164.2,46.5 L163.7,46.5 L163.2,46.6 L162.7,46.7 L162.3,46.9 L161.9,47.1 L161.5,47.4 L161.2,47.8 L160.9,48.1 L160.7,48.5 L160.6,48.9 L160.5,49.3 L160.5,49.7 L160.6,50.1 L160.7,50.5 L160.9,50.9 L161.2,51.2 L161.5,51.6 L161.9,51.9 L162.3,52.1 L162.7,52.3 L163.2,52.4 L163.7,52.5 L164.2,52.5 L164.7,52.5 L165.2,52.4 L165.7,52.2 L166.1,52.0 L166.5,51.7 L166.9,51.4 L167.1,51.0 L167.2,50.3 L167.3,49.7 L167.5,49.4 L167.7,49.5 L168.0,50.2 L168.3,51.5 L168.7,52.9 L169.2,54.4 L170.0,55.5 L171.1,56.3 L172.5,56.9 L174.0,57.4 L175.4,57.9 L176.5,58.5 L177.2,59.2 L177.7,59.8 L178.1,60.6 L178.4,61.4 L178.8,62.3 L179.2,63.4 L179.5,64.8 L179.8,66.2 L180.2,67.5 L180.6,68.5 L181.1,69.3 L181.7,69.9 L182.3,70.3 L182.9,70.6 L183.5,70.8 L183.9,70.9 L184.1,70.8 L184.3,70.6 L184.8,70.3 L185.8,69.7 L187.5,68.8 L189.8,67.5 L192.3,66.1 L194.5,64.8 L196.0,64.0" fill="none" stroke="#2f6cb5" stroke-width="1.75" stroke-linejoin="round"/>
<rect x="38.7" y="63.6" width="3.4" height="6.2" rx="0.4" transform="rotate(30 40.4 66.7)" fill="#c9222e" stroke="#8a1820" stroke-width="0.4"/>
<rect x="83.4" y="86.5" width="3.4" height="6.2" rx="0.4" transform="rotate(-22 85.1 89.6)" fill="#c9222e" stroke="#8a1820" stroke-width="0.4"/>
<rect x="107.7" y="89.4" width="3.4" height="6.2" rx="0.4" transform="rotate(-20 109.4 92.5)" fill="#c9222e" stroke="#8a1820" stroke-width="0.4"/>
<rect x="142.4" y="84.7" width="3.4" height="6.2" rx="0.4" transform="rotate(-58 144.1 87.8)" fill="#c9222e" stroke="#8a1820" stroke-width="0.4"/>
<rect x="159.8" y="82.7" width="3.4" height="6.2" rx="0.4" transform="rotate(-20 161.5 85.8)" fill="#c9222e" stroke="#8a1820" stroke-width="0.4"/>
<rect x="184.1" y="66.6" width="3.4" height="6.2" rx="0.4" transform="rotate(-29 185.8 69.7)" fill="#c9222e" stroke="#8a1820" stroke-width="0.4"/>
</g>
<rect x="35.5" y="35.5" width="158.3" height="81.9" fill="none" stroke="#3a3a3a" stroke-width="0.9"/>
<path d="M91,68.5 L35.5,123.7" stroke="#333" stroke-width="0.95" stroke-dasharray="4 2.8" fill="none"/>
<path d="M119.3,70.9 L193.8,123.6" stroke="#333" stroke-width="0.95" stroke-dasharray="4 2.8" fill="none"/>
<text x="63.2" y="54.5" font-size="5.8" fill="#de6b70" text-anchor="middle" font-weight="normal">Repressed TAD</text>
<text x="63.2" y="60.3" font-size="5.8" fill="#de6b70" text-anchor="middle" font-weight="normal">compartments</text>
<text x="125.8" y="43.8" font-size="5.8" fill="#52ad4c" text-anchor="middle" font-weight="normal">Active TAD compartments</text>
<text x="157.6" y="116.6" font-size="5.7" fill="#222" text-anchor="middle" font-weight="normal">Nuclear lamina</text>
<rect x="35.5" y="123.9" width="158.3" height="63.6" fill="#fff" stroke="#3a3a3a" stroke-width="0.9"/>
<path d="M114.4,132.3 L44,172.8 L182.5,172.8 Z" fill="#dfe0eb"/>
<path d="M65,172 Q100.25,125.0 135.5,172" fill="none" stroke="#7a7a7a" stroke-width="0.7" stroke-dasharray="2.4 1.7"/>
<path d="M85,172 Q121.5,115.0 158,172" fill="none" stroke="#7a7a7a" stroke-width="0.7" stroke-dasharray="2.4 1.7"/>
<path d="M97,172 Q136.5,143.0 176,172" fill="none" stroke="#7a7a7a" stroke-width="0.7" stroke-dasharray="2.4 1.7"/>
<path d="M57,172 Q85.0,148 113,172" fill="none" stroke="#7a7a7a" stroke-width="0.7" stroke-dasharray="2.4 1.7"/>
<path d="M118,172 Q149.0,146 180,172" fill="none" stroke="#7a7a7a" stroke-width="0.7" stroke-dasharray="2.4 1.7"/>
<line x1="35.5" y1="173.3" x2="193.8" y2="173.3" stroke="#5a6db5" stroke-width="0.8"/>
<rect x="39.900000000000006" y="170.2" width="2.6" height="6.2" fill="#c9222e" stroke="#8a1820" stroke-width="0.4"/>
<rect x="187.0" y="170.2" width="2.6" height="6.2" fill="#c9222e" stroke="#8a1820" stroke-width="0.4"/>
<rect x="54.3" y="170" width="10" height="6.6" rx="3.2" fill="#f6c27e" stroke="#c98b3e" stroke-width="0.5"/>
<rect x="94" y="170" width="10" height="6.6" rx="3.2" fill="#f6c27e" stroke="#c98b3e" stroke-width="0.5"/>
<rect x="130.2" y="170" width="10" height="6.6" rx="3.2" fill="#f6c27e" stroke="#c98b3e" stroke-width="0.5"/>
<rect x="171.9" y="170" width="10" height="6.6" rx="3.2" fill="#f6c27e" stroke="#c98b3e" stroke-width="0.5"/>
<path d="M67.2,171.70000000000002 L86.6,171.70000000000002 L86.6,170.0 L90.8,173.3 L86.6,176.60000000000002 L86.6,174.9 L67.2,174.9 Z" fill="#b79bdc" stroke="#7d5cb8" stroke-width="0.5"/>
<path d="M128.8,171.70000000000002 L109.9,171.70000000000002 L109.9,170.0 L105.7,173.3 L109.9,176.60000000000002 L109.9,174.9 L128.8,174.9 Z" fill="#b79bdc" stroke="#7d5cb8" stroke-width="0.5"/>
<path d="M142.9,171.70000000000002 L166.0,171.70000000000002 L166.0,170.0 L170.2,173.3 L166.0,176.60000000000002 L166.0,174.9 L142.9,174.9 Z" fill="#b79bdc" stroke="#7d5cb8" stroke-width="0.5"/>
<text x="114.8" y="131.3" font-size="7.4" fill="#222" text-anchor="middle" font-weight="normal">Active TAD compartment</text>
<text x="162" y="141.2" font-size="5.75" fill="#8a8a8a" text-anchor="middle" font-weight="normal">TAD interactions</text>
<text x="99.5" y="183.3" font-size="5.75" fill="#c68a44" text-anchor="middle" font-weight="normal">Regulatory element</text>
<text x="157" y="183.3" font-size="5.75" fill="#7f5fc0" text-anchor="middle" font-weight="normal">Gene</text>
<path d="M102.5,197 L113.1,207.5 L123.7,197" fill="none" stroke="#dcdde9" stroke-width="5"/>
<rect x="34.4" y="217.4" width="160" height="152" fill="#fafafa" stroke="#4a4a4a" stroke-width="0.9"/>
<text x="117.5" y="230.3" font-size="7.4" fill="#222" text-anchor="middle" font-weight="normal">Transfer learning by specialist model</text>
<rect x="61.5" y="241.3" width="17.4" height="104.2" fill="#eff1f2"/>
<circle cx="70.2" cy="259.9" r="3.0" fill="#56679c"/>
<circle cx="70.2" cy="271.3" r="2.5" fill="#27a7b7"/>
<circle cx="70.2" cy="282.4" r="2.5" fill="#27a7b7"/>
<circle cx="70.2" cy="293.6" r="3.7" fill="#5d8ea1"/>
<circle cx="70.2" cy="305.0" r="4.0" fill="#5d8ea1"/>
<circle cx="70.2" cy="316.2" r="2.7" fill="#56679c"/>
<circle cx="70.2" cy="327.3" r="2.7" fill="#56679c"/>
<circle cx="70.2" cy="338.8" r="5.0" fill="#2f2c6f"/>
<line x1="108.9" y1="261.1" x2="144.9" y2="269.8" stroke="#4a8ca0" stroke-width="0.9"/>
<line x1="108.9" y1="261.1" x2="144.9" y2="325.6" stroke="#4a8ca0" stroke-width="0.9"/>
<line x1="108.9" y1="297.6" x2="144.9" y2="269.8" stroke="#4a8ca0" stroke-width="0.9"/>
<line x1="108.9" y1="297.6" x2="144.9" y2="325.6" stroke="#4a8ca0" stroke-width="0.9"/>
<line x1="108.9" y1="333.8" x2="144.9" y2="269.8" stroke="#4a8ca0" stroke-width="0.9"/>
<line x1="108.9" y1="333.8" x2="144.9" y2="325.6" stroke="#4a8ca0" stroke-width="0.9"/>
<line x1="144.9" y1="269.8" x2="176.9" y2="279.2" stroke="#4a8ca0" stroke-width="0.9"/>
<line x1="144.9" y1="269.8" x2="176.9" y2="315.7" stroke="#4a8ca0" stroke-width="0.9"/>
<line x1="144.9" y1="325.6" x2="176.9" y2="279.2" stroke="#4a8ca0" stroke-width="0.9"/>
<line x1="144.9" y1="325.6" x2="176.9" y2="315.7" stroke="#4a8ca0" stroke-width="0.9"/>
<line x1="108.9" y1="261.1" x2="144.9" y2="297.6" stroke="#4a8ca0" stroke-width="0.9"/>
<line x1="108.9" y1="297.6" x2="144.9" y2="297.6" stroke="#4a8ca0" stroke-width="0.9"/>
<line x1="108.9" y1="333.8" x2="144.9" y2="297.6" stroke="#4a8ca0" stroke-width="0.9"/>
<line x1="144.9" y1="297.6" x2="176.9" y2="279.2" stroke="#4a8ca0" stroke-width="0.9"/>
<line x1="144.9" y1="297.6" x2="176.9" y2="315.7" stroke="#4a8ca0" stroke-width="0.9"/>
<circle cx="108.9" cy="261.1" r="7.3" fill="#5d8fa0"/>
<circle cx="108.9" cy="297.6" r="7.3" fill="#5d8fa0"/>
<circle cx="108.9" cy="333.8" r="7.3" fill="#5d8fa0"/>
<circle cx="144.9" cy="269.8" r="6.9" fill="#52669a"/>
<circle cx="144.9" cy="325.6" r="6.9" fill="#52669a"/>
<circle cx="176.9" cy="279.2" r="7.2" fill="#2f2c70"/>
<circle cx="176.9" cy="315.7" r="7.2" fill="#2f2c70"/>
<path d="M127.4,321.8 L129.4,312.5 C130.2,309.5 134,308 139,307 L150.5,307 C155.5,308 159.3,309.5 160.1,312.5 L162.3,321.8 Z" fill="#2b2b2b"/>
<path d="M139.5,306.8 L144.7,313.4 L150,306.8 Z" fill="#f2c39b"/>
<rect x="141.2" y="302" width="7" height="5.5" fill="#e9b58f"/>
<path d="M134.9,287 L134.9,296 L137,297 L137,287 Z M154.5,287 L154.5,296 L152.4,297 L152.4,287 Z" fill="#2d2d2d"/>
<path d="M136.6,287.5 L136.6,298 C137,302.5 141,305.5 144.7,305.5 C148.4,305.5 152.4,302.5 152.8,298 L152.8,287.5 Z" fill="#f7c9a2"/>
<path d="M144.7,287.5 L152.8,287.5 L152.8,298 C152.4,302.5 148.4,305.5 144.7,305.5 Z" fill="#f9d3b0"/>
<path d="M134.8,279.8 L134.8,288.2 C140,287.2 149.4,287.2 155,288.2 L155,279.8 Z" fill="#2c2c2c"/>
<path d="M130.3,277.8 L144.7,273.9 L159.4,277.8 L144.7,282.7 Z" fill="#404040"/>
<line x1="132.5" y1="278.3" x2="131.2" y2="284.5" stroke="#c89030" stroke-width="0.6"/>
<circle cx="131.1" cy="285.1" r="0.9" fill="#e8a83a"/>
<text x="75.6" y="356.3" font-size="7.35" fill="#222" text-anchor="middle" font-weight="normal">Sequence embedding</text>
<line x1="48.8" y1="396.1" x2="48.8" y2="578.8" stroke="#333" stroke-width="0.9"/>
<line x1="42.3" y1="572.3" x2="188.4" y2="572.3" stroke="#333" stroke-width="0.9"/>
<line x1="42.2" y1="572.3" x2="48.8" y2="572.3" stroke="#333" stroke-width="0.9"/>
<text x="39.9" y="575.5999999999999" font-size="9.4" fill="#333" text-anchor="end" font-weight="normal">0.1</text>
<line x1="42.2" y1="528.2" x2="48.8" y2="528.2" stroke="#333" stroke-width="0.9"/>
<text x="39.9" y="531.55" font-size="9.4" fill="#333" text-anchor="end" font-weight="normal">0.2</text>
<line x1="42.2" y1="484.2" x2="48.8" y2="484.2" stroke="#333" stroke-width="0.9"/>
<text x="39.9" y="487.49999999999994" font-size="9.4" fill="#333" text-anchor="end" font-weight="normal">0.3</text>
<line x1="42.2" y1="440.1" x2="48.8" y2="440.1" stroke="#333" stroke-width="0.9"/>
<text x="39.9" y="443.45" font-size="9.4" fill="#333" text-anchor="end" font-weight="normal">0.4</text>
<line x1="42.2" y1="396.1" x2="48.8" y2="396.1" stroke="#333" stroke-width="0.9"/>
<text x="39.9" y="399.3999999999999" font-size="9.4" fill="#333" text-anchor="end" font-weight="normal">0.5</text>
<line x1="48.8" y1="572.3" x2="48.8" y2="578.8" stroke="#333" stroke-width="0.9"/>
<text x="48.8" y="590.8" font-size="9.3" fill="#333" text-anchor="middle" font-weight="normal">0</text>
<line x1="95.3" y1="572.3" x2="95.3" y2="578.8" stroke="#333" stroke-width="0.9"/>
<text x="95.29999999999998" y="590.8" font-size="9.3" fill="#333" text-anchor="middle" font-weight="normal">10000</text>
<line x1="141.8" y1="572.3" x2="141.8" y2="578.8" stroke="#333" stroke-width="0.9"/>
<text x="141.79999999999998" y="590.8" font-size="9.3" fill="#333" text-anchor="middle" font-weight="normal">20000</text>
<line x1="188.3" y1="572.3" x2="188.3" y2="578.8" stroke="#333" stroke-width="0.9"/>
<text x="188.3" y="590.8" font-size="9.3" fill="#333" text-anchor="middle" font-weight="normal">30000</text>
<text x="118.6" y="606.0" font-size="9.4" fill="#333" text-anchor="middle" font-weight="normal">Step</text>
<text x="18.6" y="486.4" font-size="9.7" fill="#333" text-anchor="middle" font-weight="normal" transform="rotate(-90 18.6 486.4)">Train Step Loss</text>
<path d="M66.7,426.4 L67.4,427.4 L68.1,427.7 L68.8,426.7 L69.5,426.6 L70.2,426.1 L70.9,426.0 L71.6,426.1 L72.3,425.0 L73.0,424.3 L73.7,425.8 L74.4,425.8 L75.1,427.6 L75.8,427.6 L76.5,429.1 L77.2,431.0 L77.9,431.5 L78.6,433.8 L79.3,435.5 L80.0,435.2 L80.7,435.6 L81.4,437.5 L82.1,439.8 L82.8,439.7 L83.5,439.6 L84.2,440.2 L84.9,440.5 L85.6,441.9 L86.3,443.8 L87.0,445.3 L87.7,445.1 L88.4,445.1 L89.1,445.1 L89.8,446.2 L90.5,447.0 L91.2,447.1 L91.9,449.2 L92.6,448.5 L93.3,447.9 L94.0,446.2 L94.7,446.8 L95.4,446.7 L96.1,444.7 L96.8,443.9 L97.5,444.8 L98.2,446.3 L98.9,448.3 L99.6,448.7 L100.3,450.1 L101.0,450.9 L101.7,451.0 L102.4,451.8 L103.1,452.9 L103.8,453.6 L104.5,453.4 L105.2,453.6 L105.9,451.9 L106.6,451.1 L107.3,451.7 L108.0,450.9 L108.7,449.8 L109.4,450.1 L110.1,450.5 L110.8,450.6 L111.5,449.9 L112.2,449.3 L112.9,448.9 L113.6,449.0 L114.3,448.9 L115.0,449.0 L115.7,449.6 L116.4,449.1 L117.1,449.2 L117.8,451.1 L118.5,453.0 L119.2,453.6 L119.9,453.7 L120.6,453.6 L121.3,454.6 L122.0,456.4 L122.7,457.3 L123.4,457.6 L124.1,458.7 L124.8,458.1 L125.5,458.7 L126.2,460.3 L126.9,460.5 L127.6,460.5 L128.3,460.4 L129.0,461.1 L129.7,462.6 L130.4,461.3 L131.1,462.4 L131.8,463.2 L132.5,463.9 L133.2,464.1 L133.9,464.7 L134.6,464.9 L135.3,465.5 L136.0,465.9 L136.7,465.6 L137.4,467.5 L138.1,467.9 L138.8,467.5 L139.5,468.1 L140.2,468.6 L140.9,468.8 L141.6,469.5 L142.3,470.6 L143.0,471.8 L143.7,472.8 L144.4,472.4 L145.1,470.5 L145.8,469.4 L146.5,468.4 L147.2,468.4 L147.9,469.1 L148.6,469.2 L149.3,469.1 L150.0,468.3 L150.7,465.9 L151.4,465.4 L152.1,464.7 L152.8,464.1 L153.5,463.9 L154.2,464.1 L154.9,465.6 L155.6,465.0 L156.3,464.4 L157.0,465.0 L157.7,465.2 L158.4,465.2 L159.1,465.7 L159.8,467.1 L160.5,467.7 L161.2,468.7 L161.9,470.8 L162.6,471.0 L163.3,470.1 L164.0,469.6 L164.7,468.1 L165.4,467.8" fill="none" stroke="#4d8c9d" stroke-width="1.2" stroke-linejoin="round"/>
<path d="M59.3,469.6 L60.0,473.4 L60.7,475.0 L61.4,476.5 L62.1,479.4 L62.8,481.5 L63.5,483.3 L64.2,487.1 L64.9,492.0 L65.6,493.6 L66.3,492.9 L67.0,491.3 L67.7,490.6 L68.4,489.2 L69.1,488.6 L69.8,489.1 L70.5,491.0 L71.2,491.7 L71.9,492.5 L72.6,492.0 L73.3,490.8 L74.0,490.0 L74.7,490.3 L75.4,490.7 L76.1,491.7 L76.8,493.7 L77.5,494.4 L78.2,495.2 L78.9,493.8 L79.6,492.2 L80.3,491.7 L81.0,490.7 L81.7,490.7 L82.4,493.9 L83.1,496.9 L83.8,498.7 L84.5,502.6 L85.2,503.9 L85.9,502.3 L86.6,501.1 L87.3,499.4 L88.0,497.8 L88.7,494.7 L89.4,493.2 L90.1,491.4 L90.8,488.9 L91.5,490.1 L92.2,491.1 L92.9,491.5 L93.6,491.9 L94.3,492.2 L95.0,493.6 L95.7,493.6 L96.4,494.5 L97.1,494.9 L97.8,497.2 L98.5,499.3 L99.2,500.2 L99.9,501.7 L100.6,503.8 L101.3,504.7 L102.0,505.0 L102.7,505.1 L103.4,505.7 L104.1,507.3 L104.8,507.3 L105.5,509.2 L106.2,509.2 L106.9,509.6 L107.6,507.2 L108.3,506.5 L109.0,504.9 L109.7,502.8 L110.4,501.7 L111.1,502.7 L111.8,503.4 L112.5,503.6 L113.2,503.8 L113.9,504.8 L114.6,506.5 L115.3,507.0 L116.0,506.3 L116.7,507.3 L117.4,506.9 L118.1,506.7 L118.8,504.6 L119.5,503.8 L120.2,501.2 L120.9,500.5 L121.6,498.7 L122.3,497.7 L123.0,498.9 L123.7,497.9 L124.4,498.3 L125.1,500.7 L125.8,501.4 L126.5,502.3 L127.2,505.0 L127.9,505.2 L128.6,506.2 L129.3,505.3 L130.0,505.8 L130.7,505.9 L131.4,506.7 L132.1,505.4 L132.8,506.5 L133.5,504.8 L134.2,505.2 L134.9,503.8 L135.6,503.7 L136.3,504.9 L137.0,504.1 L137.7,503.7 L138.4,504.6 L139.1,505.2 L139.8,505.0 L140.5,507.3 L141.2,507.1 L141.9,507.0 L142.6,507.6 L143.3,508.6 L144.0,509.5 L144.7,508.7 L145.4,508.9 L146.1,508.2 L146.8,508.5 L147.5,509.2 L148.2,509.5 L148.9,509.9 L149.6,509.8 L150.3,510.5 L151.0,510.7 L151.7,510.6 L152.4,510.1 L153.1,511.0 L153.8,511.8 L154.5,512.5 L155.2,514.3 L155.9,516.9 L156.6,517.3 L157.3,517.4 L158.0,516.2 L158.7,515.4 L159.4,513.6 L160.1,514.0 L160.8,512.1 L161.5,511.4 L162.2,511.1 L162.9,510.5 L163.6,511.6 L164.3,511.5 L165.0,511.5" fill="none" stroke="#f0902f" stroke-width="1.2" stroke-linejoin="round"/>
<path d="M63.5,453.3 L64.2,458.2 L64.9,462.1 L65.6,465.0 L66.3,467.8 L67.0,469.2 L67.7,470.4 L68.4,473.3 L69.1,474.7 L69.8,476.5 L70.5,479.8 L71.2,481.6 L71.9,484.4 L72.6,486.5 L73.3,489.1 L74.0,490.8 L74.7,493.6 L75.4,496.7 L76.1,498.8 L76.8,501.4 L77.5,503.4 L78.2,504.4 L78.9,507.1 L79.6,508.5 L80.3,509.2 L81.0,509.7 L81.7,512.0 L82.4,513.0 L83.1,514.6 L83.8,516.2 L84.5,517.3 L85.2,518.9 L85.9,519.5 L86.6,521.2 L87.3,522.0 L88.0,524.0 L88.7,524.6 L89.4,523.6 L90.1,523.2 L90.8,523.3 L91.5,524.7 L92.2,524.4 L92.9,524.4 L93.6,523.7 L94.3,523.5 L95.0,523.1 L95.7,522.9 L96.4,523.7 L97.1,524.4 L97.8,525.5 L98.5,526.0 L99.2,526.9 L99.9,527.5 L100.6,528.3 L101.3,528.3 L102.0,527.7 L102.7,528.8 L103.4,529.8 L104.1,530.4 L104.8,530.4 L105.5,530.8 L106.2,530.4 L106.9,531.2 L107.6,531.0 L108.3,530.5 L109.0,529.7 L109.7,531.0 L110.4,532.6 L111.1,532.2 L111.8,533.7 L112.5,534.1 L113.2,532.6 L113.9,531.0 L114.6,530.4 L115.3,529.7 L116.0,527.5 L116.7,526.9 L117.4,525.0 L118.1,525.2 L118.8,524.5 L119.5,524.8 L120.2,525.0 L120.9,525.4 L121.6,527.5 L122.3,528.1 L123.0,528.7 L123.7,530.5 L124.4,530.2 L125.1,530.6 L125.8,531.3 L126.5,532.3 L127.2,532.3 L127.9,532.0 L128.6,533.4 L129.3,533.2 L130.0,534.4 L130.7,535.0 L131.4,534.5 L132.1,534.4 L132.8,534.7 L133.5,535.3 L134.2,535.6 L134.9,535.9 L135.6,536.4 L136.3,537.4 L137.0,537.3 L137.7,537.1 L138.4,537.5 L139.1,536.9 L139.8,536.7 L140.5,537.9 L141.2,537.7 L141.9,537.8 L142.6,537.0 L143.3,537.4 L144.0,538.0 L144.7,537.5 L145.4,538.3 L146.1,539.0 L146.8,538.4 L147.5,539.1 L148.2,539.4 L148.9,539.9 L149.6,539.8 L150.3,540.4 L151.0,540.9 L151.7,539.9 L152.4,539.5 L153.1,540.5 L153.8,541.6 L154.5,541.1 L155.2,541.2 L155.9,541.6 L156.6,541.4 L157.3,541.3 L158.0,541.1 L158.7,541.2 L159.4,541.6 L160.1,541.3 L160.8,541.3 L161.5,542.2 L162.2,541.4 L162.9,542.0 L163.6,542.7 L164.3,542.4 L165.0,542.2" fill="none" stroke="#4b68a3" stroke-width="1.2" stroke-linejoin="round"/>
<text x="132.9" y="429.1" font-size="8.6" fill="#4d8c9d" text-anchor="middle" font-weight="normal">C.Origami DNA Sequence</text>
<text x="158.4" y="493.8" font-size="8.5" fill="#e98a35" text-anchor="middle" font-weight="normal">OmniReg-GPT</text>
<text x="163.6" y="556.4" font-size="8.5" fill="#4b68a3" text-anchor="middle" font-weight="normal">C.Origami</text>
<g clip-path="url(#hc0)">
<rect x="266.5" y="35.8" width="127.0" height="127.0" fill="#cfe3f4"/>
<rect x="282.12" y="51.42" width="53.59" height="53.59" fill="#86b9e3" fill-opacity="0.45"/><rect x="266.50" y="35.80" width="15.62" height="15.62" fill="#86b9e3" fill-opacity="0.35"/><rect x="335.72" y="105.02" width="17.91" height="17.91" fill="#4f8dca" fill-opacity="0.85"/><rect x="353.62" y="122.92" width="39.88" height="39.88" fill="#86b9e3" fill-opacity="0.5"/><rect x="266.50" y="122.92" width="69.22" height="39.88" fill="#ffffff" fill-opacity="0.32"/><rect x="353.62" y="35.80" width="39.88" height="69.22" fill="#ffffff" fill-opacity="0.32"/><rect x="266.50" y="51.42" width="15.62" height="53.59" fill="#ffffff" fill-opacity="0.1"/><rect x="282.12" y="35.80" width="53.59" height="15.62" fill="#ffffff" fill-opacity="0.1"/><rect x="266.5" y="35.8" width="127.0" height="127.0" fill="url(#dg0)"/><rect x="336.73" y="35.80" width="12.57" height="69.22" fill="#ffffff" fill-opacity="0.65"/><rect x="266.50" y="106.03" width="69.22" height="12.57" fill="#ffffff" fill-opacity="0.65"/><rect x="353.62" y="106.03" width="39.88" height="12.57" fill="#ffffff" fill-opacity="0.6"/><rect x="336.73" y="122.92" width="12.57" height="39.88" fill="#ffffff" fill-opacity="0.6"/><rect x="335.72" y="51.42" width="1.40" height="53.59" fill="#6fa7db" fill-opacity="0.35"/><rect x="282.12" y="105.02" width="53.59" height="1.40" fill="#6fa7db" fill-opacity="0.35"/><rect x="336.73" y="51.04" width="12.57" height="1.52" fill="#6fa7db" fill-opacity="0.3"/><rect x="281.74" y="106.03" width="1.52" height="12.57" fill="#6fa7db" fill-opacity="0.3"/>
<g mask="url(#hm0)">
<rect x="266.5" y="35.8" width="127.0" height="127.0" filter="url(#nzb)" opacity="0.4"/>
<rect x="266.5" y="35.8" width="127.0" height="127.0" filter="url(#nzw)" opacity="0.85"/>
<rect x="266.5" y="35.8" width="127.0" height="127.0" filter="url(#nzl)" opacity="0.35"/>
</g>
<line x1="266.5" y1="35.8" x2="393.5" y2="162.8" stroke="#3673b6" stroke-width="2.6" stroke-opacity="0.75"/>
</g>
<rect x="266.5" y="35.8" width="127.0" height="127.0" fill="none" stroke="#505050" stroke-width="1.1"/>
<line x1="263.5" y1="35.8" x2="266.5" y2="35.8" stroke="#505050" stroke-width="0.9"/>
<line x1="263.5" y1="85.4" x2="266.5" y2="85.4" stroke="#505050" stroke-width="0.9"/>
<line x1="263.5" y1="135.0" x2="266.5" y2="135.0" stroke="#505050" stroke-width="0.9"/>
<g clip-path="url(#hc1)">
<rect x="399.4" y="35.8" width="127.0" height="127.0" fill="#d0e4f5"/>
<rect x="399.40" y="35.80" width="26.67" height="26.67" fill="#86b9e3" fill-opacity="0.6"/><rect x="426.07" y="62.47" width="50.80" height="50.80" fill="#86b9e3" fill-opacity="0.45"/><rect x="426.07" y="62.47" width="25.40" height="25.40" fill="#86b9e3" fill-opacity="0.2"/><rect x="451.47" y="87.87" width="25.40" height="25.40" fill="#86b9e3" fill-opacity="0.2"/><rect x="476.87" y="113.27" width="26.16" height="26.16" fill="#86b9e3" fill-opacity="0.7"/><rect x="503.03" y="139.43" width="23.37" height="23.37" fill="#4f8dca" fill-opacity="0.75"/><rect x="399.40" y="62.47" width="26.67" height="25.40" fill="#86b9e3" fill-opacity="0.3"/><rect x="426.07" y="35.80" width="25.40" height="26.67" fill="#86b9e3" fill-opacity="0.3"/><rect x="451.47" y="113.27" width="25.40" height="26.16" fill="#86b9e3" fill-opacity="0.3"/><rect x="476.87" y="87.87" width="26.16" height="25.40" fill="#86b9e3" fill-opacity="0.3"/><rect x="476.87" y="139.43" width="26.16" height="23.37" fill="#86b9e3" fill-opacity="0.35"/><rect x="503.03" y="113.27" width="23.37" height="26.16" fill="#86b9e3" fill-opacity="0.35"/><rect x="426.07" y="35.80" width="50.80" height="26.67" fill="#86b9e3" fill-opacity="0.12"/><rect x="399.40" y="62.47" width="26.67" height="50.80" fill="#86b9e3" fill-opacity="0.12"/><rect x="399.40" y="113.27" width="52.07" height="49.53" fill="#ffffff" fill-opacity="0.35"/><rect x="476.87" y="35.80" width="49.53" height="52.07" fill="#ffffff" fill-opacity="0.35"/><rect x="451.47" y="35.80" width="25.40" height="26.67" fill="#ffffff" fill-opacity="0.1"/><rect x="399.40" y="87.87" width="26.67" height="25.40" fill="#ffffff" fill-opacity="0.1"/><rect x="503.03" y="35.80" width="23.37" height="77.47" fill="#ffffff" fill-opacity="0.15"/><rect x="399.40" y="139.43" width="77.47" height="23.37" fill="#ffffff" fill-opacity="0.15"/><rect x="415.91" y="86.60" width="2.54" height="2.54" fill="#4f8dca" fill-opacity="0.3"/><rect x="450.20" y="52.31" width="2.54" height="2.54" fill="#4f8dca" fill-opacity="0.3"/><rect x="450.20" y="59.93" width="2.54" height="2.54" fill="#4f8dca" fill-opacity="0.3"/><rect x="423.53" y="86.60" width="2.54" height="2.54" fill="#4f8dca" fill-opacity="0.3"/><rect x="475.60" y="54.85" width="2.54" height="2.54" fill="#4f8dca" fill-opacity="0.3"/><rect x="418.45" y="112.00" width="2.54" height="2.54" fill="#4f8dca" fill-opacity="0.3"/><rect x="475.60" y="86.60" width="2.54" height="2.54" fill="#4f8dca" fill-opacity="0.3"/><rect x="450.20" y="112.00" width="2.54" height="2.54" fill="#4f8dca" fill-opacity="0.3"/><rect x="501.76" y="112.00" width="2.54" height="2.54" fill="#4f8dca" fill-opacity="0.3"/><rect x="475.60" y="138.16" width="2.54" height="2.54" fill="#4f8dca" fill-opacity="0.3"/><rect x="501.76" y="112.00" width="2.54" height="2.54" fill="#4f8dca" fill-opacity="0.3"/><rect x="475.60" y="138.16" width="2.54" height="2.54" fill="#4f8dca" fill-opacity="0.3"/><rect x="450.20" y="136.13" width="2.54" height="2.54" fill="#4f8dca" fill-opacity="0.3"/><rect x="499.73" y="86.60" width="2.54" height="2.54" fill="#4f8dca" fill-opacity="0.3"/><rect x="399.4" y="35.8" width="127.0" height="127.0" fill="url(#dg1)"/>
<g mask="url(#hm1)">
<rect x="399.4" y="35.8" width="127.0" height="127.0" filter="url(#nzb)" opacity="0.4"/>
<rect x="399.4" y="35.8" width="127.0" height="127.0" filter="url(#nzw)" opacity="0.85"/>
<rect x="399.4" y="35.8" width="127.0" height="127.0" filter="url(#nzl)" opacity="0.35"/>
</g>
<line x1="399.4" y1="35.8" x2="526.4" y2="162.8" stroke="#3673b6" stroke-width="2.6" stroke-opacity="0.75"/>
</g>
<rect x="399.4" y="35.8" width="127.0" height="127.0" fill="none" stroke="#505050" stroke-width="1.1"/>
<line x1="396.4" y1="35.8" x2="399.4" y2="35.8" stroke="#505050" stroke-width="0.9"/>
<line x1="396.4" y1="85.4" x2="399.4" y2="85.4" stroke="#505050" stroke-width="0.9"/>
<line x1="396.4" y1="135.0" x2="399.4" y2="135.0" stroke="#505050" stroke-width="0.9"/>
<g clip-path="url(#hc2)">
<rect x="532.5" y="35.8" width="127.0" height="127.0" fill="#d6e8f6"/>
<rect x="532.50" y="35.80" width="35.56" height="34.29" fill="#86b9e3" fill-opacity="0.5"/><rect x="532.50" y="35.80" width="34.29" height="35.56" fill="#86b9e3" fill-opacity="0.5"/><rect x="532.50" y="35.80" width="25.40" height="24.13" fill="#4f8dca" fill-opacity="0.35"/><rect x="532.50" y="35.80" width="24.13" height="25.40" fill="#4f8dca" fill-opacity="0.35"/><rect x="566.79" y="71.36" width="40.00" height="38.73" fill="#6aa3d8" fill-opacity="0.6"/><rect x="568.06" y="70.09" width="38.73" height="40.00" fill="#6aa3d8" fill-opacity="0.6"/><rect x="606.79" y="110.09" width="13.08" height="13.08" fill="#4f8dca" fill-opacity="0.9"/><rect x="619.88" y="123.18" width="39.62" height="39.62" fill="#86b9e3" fill-opacity="0.7"/><rect x="570.60" y="35.80" width="88.90" height="34.29" fill="#ffffff" fill-opacity="0.45"/><rect x="532.50" y="73.90" width="34.29" height="88.90" fill="#ffffff" fill-opacity="0.45"/><rect x="566.79" y="35.80" width="92.71" height="25.40" fill="#ffffff" fill-opacity="0.2"/><rect x="532.50" y="70.09" width="25.40" height="92.71" fill="#ffffff" fill-opacity="0.2"/><rect x="566.79" y="61.20" width="92.71" height="10.16" fill="#86b9e3" fill-opacity="0.12"/><rect x="557.90" y="70.09" width="10.16" height="92.71" fill="#86b9e3" fill-opacity="0.12"/><rect x="621.40" y="72.00" width="38.10" height="38.10" fill="#ffffff" fill-opacity="0.15"/><rect x="568.70" y="124.70" width="38.10" height="38.10" fill="#ffffff" fill-opacity="0.15"/><rect x="532.5" y="35.8" width="127.0" height="127.0" fill="url(#dg2)"/><rect x="568.70" y="112.00" width="38.10" height="12.70" fill="#ffffff" fill-opacity="0.6"/><rect x="608.70" y="72.00" width="12.70" height="38.10" fill="#ffffff" fill-opacity="0.6"/><rect x="566.79" y="110.22" width="40.00" height="1.78" fill="#6fa7db" fill-opacity="0.35"/><rect x="606.92" y="70.09" width="1.78" height="40.00" fill="#6fa7db" fill-opacity="0.35"/><rect x="606.92" y="70.09" width="14.48" height="1.90" fill="#6fa7db" fill-opacity="0.35"/><rect x="566.79" y="110.22" width="1.90" height="14.48" fill="#6fa7db" fill-opacity="0.35"/>
<g mask="url(#hm2)">
<rect x="532.5" y="35.8" width="127.0" height="127.0" filter="url(#nzb)" opacity="0.4"/>
<rect x="532.5" y="35.8" width="127.0" height="127.0" filter="url(#nzw)" opacity="0.85"/>
<rect x="532.5" y="35.8" width="127.0" height="127.0" filter="url(#nzl)" opacity="0.35"/>
</g>
<line x1="532.5" y1="35.8" x2="659.5" y2="162.8" stroke="#3673b6" stroke-width="2.6" stroke-opacity="0.75"/>
</g>
<rect x="532.5" y="35.8" width="127.0" height="127.0" fill="none" stroke="#505050" stroke-width="1.1"/>
<line x1="529.5" y1="35.8" x2="532.5" y2="35.8" stroke="#505050" stroke-width="0.9"/>
<line x1="529.5" y1="85.4" x2="532.5" y2="85.4" stroke="#505050" stroke-width="0.9"/>
<line x1="529.5" y1="135.0" x2="532.5" y2="135.0" stroke="#505050" stroke-width="0.9"/>
<g clip-path="url(#hc3)">
<rect x="266.5" y="169.1" width="127.0" height="127.0" fill="#eaf0f7"/>
<g filter="url(#soft)"><rect x="282.12" y="184.72" width="53.59" height="53.59" fill="#76ade0" fill-opacity="0.119"/><rect x="335.72" y="238.31" width="17.91" height="17.91" fill="#76ade0" fill-opacity="0.42"/><rect x="353.62" y="256.22" width="39.88" height="39.88" fill="#76ade0" fill-opacity="0.14"/><rect x="266.50" y="169.10" width="15.62" height="15.62" fill="#76ade0" fill-opacity="0.098"/><rect x="282.12" y="239.33" width="53.59" height="12.57" fill="#ffffff" fill-opacity="0.4"/><rect x="336.73" y="184.72" width="12.57" height="53.59" fill="#ffffff" fill-opacity="0.4"/><rect x="353.62" y="239.33" width="39.88" height="12.57" fill="#ffffff" fill-opacity="0.2"/><rect x="336.73" y="256.22" width="12.57" height="39.88" fill="#ffffff" fill-opacity="0.2"/></g><rect x="266.5" y="169.1" width="127.0" height="127.0" fill="url(#dg3)"/>
<line x1="266.5" y1="169.1" x2="393.5" y2="296.1" stroke="#3673b6" stroke-width="2.5" stroke-opacity="0.75"/>
</g>
<rect x="266.5" y="169.1" width="127.0" height="127.0" fill="none" stroke="#505050" stroke-width="1.1"/>
<line x1="263.5" y1="169.1" x2="266.5" y2="169.1" stroke="#505050" stroke-width="0.9"/>
<line x1="263.5" y1="218.7" x2="266.5" y2="218.7" stroke="#505050" stroke-width="0.9"/>
<line x1="263.5" y1="268.3" x2="266.5" y2="268.3" stroke="#505050" stroke-width="0.9"/>
<g clip-path="url(#hc4)">
<rect x="399.4" y="169.1" width="127.0" height="127.0" fill="#eaf0f7"/>
<g filter="url(#soft)"><rect x="399.40" y="169.10" width="26.67" height="26.67" fill="#76ade0" fill-opacity="0.14"/><rect x="426.07" y="195.77" width="50.80" height="50.80" fill="#76ade0" fill-opacity="0.112"/><rect x="426.07" y="195.77" width="25.40" height="25.40" fill="#76ade0" fill-opacity="0.042"/><rect x="451.47" y="221.17" width="25.40" height="25.40" fill="#76ade0" fill-opacity="0.042"/><rect x="476.87" y="246.57" width="26.16" height="26.16" fill="#76ade0" fill-opacity="0.168"/><rect x="503.03" y="272.73" width="23.37" height="23.37" fill="#76ade0" fill-opacity="0.252"/><rect x="399.40" y="195.77" width="26.67" height="25.40" fill="#76ade0" fill-opacity="0.056"/><rect x="426.07" y="169.10" width="25.40" height="26.67" fill="#76ade0" fill-opacity="0.056"/><rect x="451.47" y="246.57" width="25.40" height="26.16" fill="#76ade0" fill-opacity="0.056"/><rect x="476.87" y="221.17" width="26.16" height="25.40" fill="#76ade0" fill-opacity="0.056"/><rect x="476.87" y="272.73" width="26.16" height="23.37" fill="#76ade0" fill-opacity="0.07"/><rect x="503.03" y="246.57" width="23.37" height="26.16" fill="#76ade0" fill-opacity="0.07"/></g><rect x="399.4" y="169.1" width="127.0" height="127.0" fill="url(#dg4)"/>
<line x1="399.4" y1="169.1" x2="526.4" y2="296.1" stroke="#3673b6" stroke-width="2.5" stroke-opacity="0.75"/>
</g>
<rect x="399.4" y="169.1" width="127.0" height="127.0" fill="none" stroke="#505050" stroke-width="1.1"/>
<line x1="396.4" y1="169.1" x2="399.4" y2="169.1" stroke="#505050" stroke-width="0.9"/>
<line x1="396.4" y1="218.7" x2="399.4" y2="218.7" stroke="#505050" stroke-width="0.9"/>
<line x1="396.4" y1="268.3" x2="399.4" y2="268.3" stroke="#505050" stroke-width="0.9"/>
<g clip-path="url(#hc5)">
<rect x="532.5" y="169.1" width="127.0" height="127.0" fill="#eaf0f7"/>
<g filter="url(#soft)"><rect x="532.50" y="169.10" width="35.56" height="34.29" fill="#76ade0" fill-opacity="0.252"/><rect x="532.50" y="169.10" width="34.29" height="35.56" fill="#76ade0" fill-opacity="0.252"/><rect x="566.79" y="204.66" width="40.00" height="38.73" fill="#76ade0" fill-opacity="0.17"/><rect x="568.06" y="203.39" width="38.73" height="40.00" fill="#76ade0" fill-opacity="0.17"/><rect x="606.79" y="243.39" width="14.60" height="14.60" fill="#76ade0" fill-opacity="0.315"/><rect x="621.40" y="258.00" width="38.10" height="38.10" fill="#76ade0" fill-opacity="0.182"/><rect x="568.70" y="245.30" width="38.10" height="12.70" fill="#ffffff" fill-opacity="0.45"/><rect x="608.70" y="205.29" width="12.70" height="38.10" fill="#ffffff" fill-opacity="0.45"/></g><rect x="532.5" y="169.1" width="127.0" height="127.0" fill="url(#dg5)"/>
<line x1="532.5" y1="169.1" x2="659.5" y2="296.1" stroke="#3673b6" stroke-width="2.5" stroke-opacity="0.75"/>
</g>
<rect x="532.5" y="169.1" width="127.0" height="127.0" fill="none" stroke="#505050" stroke-width="1.1"/>
<line x1="529.5" y1="169.1" x2="532.5" y2="169.1" stroke="#505050" stroke-width="0.9"/>
<line x1="529.5" y1="218.7" x2="532.5" y2="218.7" stroke="#505050" stroke-width="0.9"/>
<line x1="529.5" y1="268.3" x2="532.5" y2="268.3" stroke="#505050" stroke-width="0.9"/>
<text x="330.1" y="31.3" font-size="10.5" fill="#222" text-anchor="middle" font-weight="normal">Chr2</text>
<text x="464.8" y="31.3" font-size="10.5" fill="#222" text-anchor="middle" font-weight="normal">Chr10</text>
<text x="597.7" y="31.3" font-size="10.5" fill="#222" text-anchor="middle" font-weight="normal">Chr15</text>
<text x="262.2" y="39.0" font-size="8.6" fill="#333" text-anchor="end" font-weight="normal">0</text>
<text x="262.2" y="88.609375" font-size="8.6" fill="#333" text-anchor="end" font-weight="normal">100</text>
<text x="262.2" y="138.21875" font-size="8.6" fill="#333" text-anchor="end" font-weight="normal">200</text>
<text x="262.2" y="172.29999999999998" font-size="8.6" fill="#333" text-anchor="end" font-weight="normal">0</text>
<text x="262.2" y="221.90937499999998" font-size="8.6" fill="#333" text-anchor="end" font-weight="normal">100</text>
<text x="262.2" y="271.51875" font-size="8.6" fill="#333" text-anchor="end" font-weight="normal">200</text>
<text x="238.3" y="99.5" font-size="10.4" fill="#222" text-anchor="middle" font-weight="normal" transform="rotate(-90 238.3 99.5)">Exprimental Hi-C</text>
<text x="238.3" y="232.5" font-size="10.4" fill="#222" text-anchor="middle" font-weight="normal" transform="rotate(-90 238.3 232.5)">Prediction</text>
<text x="274.3" y="305.5" font-size="3" fill="#999" text-anchor="middle" font-weight="normal">0</text>
<rect x="666.6" y="35.8" width="5.9" height="260.3" fill="url(#cbg)" stroke="#505050" stroke-width="0.9"/>
<line x1="672.5" y1="296.1" x2="675.6" y2="296.1" stroke="#505050" stroke-width="0.9"/>
<text x="679.8" y="299.40000000000003" font-size="9.0" fill="#333" text-anchor="start" font-weight="normal">0</text>
<line x1="672.5" y1="244.0" x2="675.6" y2="244.0" stroke="#505050" stroke-width="0.9"/>
<text x="679.8" y="247.34000000000003" font-size="9.0" fill="#333" text-anchor="start" font-weight="normal">1</text>
<line x1="672.5" y1="192.0" x2="675.6" y2="192.0" stroke="#505050" stroke-width="0.9"/>
<text x="679.8" y="195.28000000000003" font-size="9.0" fill="#333" text-anchor="start" font-weight="normal">2</text>
<line x1="672.5" y1="139.9" x2="675.6" y2="139.9" stroke="#505050" stroke-width="0.9"/>
<text x="679.8" y="143.22000000000003" font-size="9.0" fill="#333" text-anchor="start" font-weight="normal">3</text>
<line x1="672.5" y1="87.9" x2="675.6" y2="87.9" stroke="#505050" stroke-width="0.9"/>
<text x="679.8" y="91.16000000000001" font-size="9.0" fill="#333" text-anchor="start" font-weight="normal">4</text>
<line x1="672.5" y1="35.8" x2="675.6" y2="35.8" stroke="#505050" stroke-width="0.9"/>
<text x="679.8" y="39.10000000000001" font-size="9.0" fill="#333" text-anchor="start" font-weight="normal">5</text>
<line x1="277.4" y1="321.3" x2="277.4" y2="438.3" stroke="#333" stroke-width="0.9"/>
<line x1="277.4" y1="438.3" x2="396.0" y2="438.3" stroke="#333" stroke-width="0.9"/>
<text x="322.94999999999993" y="445.6" font-size="6.0" fill="#333" text-anchor="middle" font-weight="normal">100</text>
<line x1="322.9" y1="438.3" x2="322.9" y2="439.6" stroke="#777" stroke-width="0.5"/>
<text x="370.09999999999997" y="445.6" font-size="6.0" fill="#333" text-anchor="middle" font-weight="normal">200</text>
<line x1="370.1" y1="438.3" x2="370.1" y2="439.6" stroke="#777" stroke-width="0.5"/>
<line x1="411.7" y1="321.3" x2="411.7" y2="438.3" stroke="#333" stroke-width="0.9"/>
<line x1="411.7" y1="438.3" x2="530.6" y2="438.3" stroke="#333" stroke-width="0.9"/>
<text x="457.24999999999994" y="445.6" font-size="6.0" fill="#333" text-anchor="middle" font-weight="normal">100</text>
<line x1="457.2" y1="438.3" x2="457.2" y2="439.6" stroke="#777" stroke-width="0.5"/>
<text x="504.4" y="445.6" font-size="6.0" fill="#333" text-anchor="middle" font-weight="normal">200</text>
<line x1="504.4" y1="438.3" x2="504.4" y2="439.6" stroke="#777" stroke-width="0.5"/>
<line x1="546.4" y1="321.3" x2="546.4" y2="438.3" stroke="#333" stroke-width="0.9"/>
<line x1="546.4" y1="438.3" x2="665.0" y2="438.3" stroke="#333" stroke-width="0.9"/>
<text x="591.9499999999999" y="445.6" font-size="6.0" fill="#333" text-anchor="middle" font-weight="normal">100</text>
<line x1="591.9" y1="438.3" x2="591.9" y2="439.6" stroke="#777" stroke-width="0.5"/>
<text x="639.0999999999999" y="445.6" font-size="6.0" fill="#333" text-anchor="middle" font-weight="normal">200</text>
<line x1="639.1" y1="438.3" x2="639.1" y2="439.6" stroke="#777" stroke-width="0.5"/>
<text x="276.5" y="323.40000000000003" font-size="6.0" fill="#333" text-anchor="end" font-weight="normal">1.04</text>
<line x1="275.9" y1="321.3" x2="277.4" y2="321.3" stroke="#333" stroke-width="0.6"/>
<text x="276.5" y="362.40000000000003" font-size="6.0" fill="#333" text-anchor="end" font-weight="normal">1.03</text>
<line x1="275.9" y1="360.3" x2="277.4" y2="360.3" stroke="#333" stroke-width="0.6"/>
<text x="276.5" y="401.40000000000003" font-size="6.0" fill="#333" text-anchor="end" font-weight="normal">1.02</text>
<line x1="275.9" y1="399.3" x2="277.4" y2="399.3" stroke="#333" stroke-width="0.6"/>
<text x="276.5" y="440.40000000000003" font-size="6.0" fill="#333" text-anchor="end" font-weight="normal">1.01</text>
<line x1="275.9" y1="438.3" x2="277.4" y2="438.3" stroke="#333" stroke-width="0.6"/>
<line x1="410.2" y1="321.3" x2="411.7" y2="321.3" stroke="#555" stroke-width="0.5"/>
<line x1="410.2" y1="360.3" x2="411.7" y2="360.3" stroke="#555" stroke-width="0.5"/>
<line x1="410.2" y1="399.3" x2="411.7" y2="399.3" stroke="#555" stroke-width="0.5"/>
<line x1="410.2" y1="438.3" x2="411.7" y2="438.3" stroke="#555" stroke-width="0.5"/>
<line x1="544.9" y1="321.3" x2="546.4" y2="321.3" stroke="#555" stroke-width="0.5"/>
<line x1="544.9" y1="360.3" x2="546.4" y2="360.3" stroke="#555" stroke-width="0.5"/>
<line x1="544.9" y1="399.3" x2="546.4" y2="399.3" stroke="#555" stroke-width="0.5"/>
<line x1="544.9" y1="438.3" x2="546.4" y2="438.3" stroke="#555" stroke-width="0.5"/>
<text x="345.1" y="326.8" font-size="7.8" fill="#222" text-anchor="middle" font-weight="normal">R = 0.82</text>
<text x="466.1" y="326.8" font-size="7.8" fill="#222" text-anchor="middle" font-weight="normal">R = 0.85</text>
<text x="617.8" y="326.8" font-size="7.8" fill="#222" text-anchor="middle" font-weight="normal">R = 0.80</text>
<text x="260.3" y="371.3" font-size="10.5" fill="#222" text-anchor="middle" font-weight="normal" transform="rotate(-90 260.3 371.3)">Insulation Score</text>
<text x="464.8" y="464.2" font-size="10.5" fill="#222" text-anchor="middle" font-weight="normal">Position in Window (bin size: 8192 bp)</text>
<path d="M277.5,375.8 L277.9,375.2 L278.4,374.2 L279.0,373.2 L279.6,372.4 L280.2,372.2 L280.7,372.6 L281.2,373.6 L281.6,374.7 L282.2,375.9 L282.8,376.9 L283.6,377.6 L284.4,378.1 L285.3,378.6 L286.2,379.2 L287.1,380.1 L287.9,381.3 L288.8,382.8 L289.6,384.4 L290.5,386.0 L291.3,387.6 L292.1,389.1 L293.0,390.6 L293.8,392.1 L294.7,393.6 L295.6,395.0 L296.6,396.5 L297.7,398.0 L298.9,399.4 L300.0,400.6 L300.9,401.4 L301.7,401.7 L302.3,401.6 L302.9,401.3 L303.4,400.8 L304.1,400.4 L304.8,399.9 L305.6,399.2 L306.4,398.5 L307.2,398.0 L308.0,397.8 L308.7,398.0 L309.5,398.4 L310.2,399.1 L310.9,399.8 L311.6,400.4 L312.3,401.1 L312.9,401.8 L313.6,402.6 L314.3,403.2 L315.2,403.6 L316.2,403.7 L317.4,403.6 L318.7,403.4 L319.9,403.1 L321.2,402.9 L322.5,402.8 L323.8,402.6 L325.2,402.5 L326.4,402.3 L327.6,402.1 L328.6,401.9 L329.5,401.7 L330.4,401.5 L331.2,401.1 L331.9,400.4 L332.6,399.5 L333.2,398.5 L333.8,397.2 L334.4,395.8 L335.0,394.0 L335.6,391.7 L336.3,388.9 L336.9,386.0 L337.6,383.3 L338.2,381.2 L338.8,379.6 L339.5,378.3 L340.1,377.3 L340.8,376.8 L341.4,376.9 L342.0,377.8 L342.7,379.4 L343.3,381.4 L344.0,383.5 L344.6,385.4 L345.2,387.2 L345.9,389.0 L346.5,390.9 L347.2,392.6 L347.8,394.0 L348.4,395.3 L349.1,396.4 L349.7,397.3 L350.4,398.0 L351.0,398.2 L351.7,398.0 L352.3,397.3 L353.0,396.4 L353.6,395.3 L354.2,394.0 L354.7,392.5 L355.1,390.8 L355.5,388.9 L355.9,387.0 L356.3,385.4 L356.7,383.9 L357.1,382.4 L357.5,381.0 L358.0,379.8 L358.5,379.0 L359.1,378.6 L359.7,378.6 L360.4,378.8 L361.0,379.0 L361.7,379.0 L362.3,378.8 L363.0,378.5 L363.6,378.2 L364.3,378.0 L364.9,378.0 L365.5,378.1 L366.2,378.4 L366.8,378.7 L367.5,379.3 L368.1,380.1 L368.7,381.2 L369.3,382.5 L369.9,384.0 L370.6,385.7 L371.3,387.6 L372.1,390.0 L373.0,392.8 L373.8,395.6 L374.7,398.3 L375.5,400.4 L376.2,401.9 L376.9,402.9 L377.5,403.7 L378.1,404.2 L378.7,404.6 L379.3,404.8 L379.9,404.7 L380.5,404.5 L381.2,404.1 L381.9,403.6 L382.7,403.1 L383.5,402.5 L384.4,401.7 L385.3,400.7 L386.2,399.3 L387.1,397.5 L388.0,395.2 L388.9,392.7 L389.7,390.1 L390.5,387.6 L391.2,385.0 L391.9,382.1 L392.6,379.3 L393.1,376.8 L393.7,374.8 L394.2,373.5 L394.7,372.7 L395.2,372.2 L395.5,371.9 L395.8,371.6" fill="none" stroke="#6a6a6a" stroke-width="0.9" stroke-dasharray="1.2 0.9"/>
<path d="M277.5,361.5 L277.8,361.8 L278.2,362.3 L278.7,362.9 L279.1,363.6 L279.6,364.5 L280.0,365.7 L280.4,367.2 L280.9,368.8 L281.3,370.4 L281.7,371.6 L282.1,372.5 L282.5,373.2 L282.9,373.7 L283.4,374.2 L283.9,374.8 L284.5,375.5 L285.1,376.1 L285.8,376.8 L286.5,377.4 L287.1,378.0 L287.7,378.4 L288.2,378.8 L288.7,379.1 L289.2,379.5 L289.6,380.1 L290.0,380.9 L290.3,381.8 L290.7,382.9 L291.0,384.1 L291.3,385.4 L291.6,386.9 L292.0,388.5 L292.3,390.3 L292.7,392.1 L293.0,394.0 L293.3,396.1 L293.6,398.5 L293.9,400.9 L294.2,403.0 L294.5,404.6 L294.7,405.6 L294.9,406.2 L295.0,406.5 L295.3,406.6 L295.6,406.8 L296.1,407.0 L296.7,407.0 L297.4,407.0 L298.1,407.1 L298.8,407.2 L299.4,407.4 L300.1,407.7 L300.7,408.0 L301.4,408.4 L302.0,408.9 L302.6,409.6 L303.3,410.3 L303.9,411.2 L304.6,412.2 L305.2,413.2 L305.9,414.3 L306.5,415.6 L307.2,416.9 L307.8,418.3 L308.4,419.6 L308.9,420.9 L309.3,422.2 L309.7,423.5 L310.1,424.7 L310.5,426.0 L310.9,427.3 L311.2,428.7 L311.5,430.0 L311.9,431.2 L312.3,432.0 L312.7,432.4 L313.2,432.6 L313.7,432.5 L314.2,432.4 L314.8,432.4 L315.4,432.5 L316.1,432.6 L316.8,432.7 L317.4,432.8 L318.0,433.0 L318.5,433.3 L318.9,433.8 L319.3,434.3 L319.7,434.6 L320.1,434.5 L320.5,434.1 L321.0,433.5 L321.4,432.7 L321.9,431.6 L322.3,430.2 L322.7,428.5 L323.1,426.5 L323.5,424.3 L323.9,422.0 L324.4,419.6 L325.0,417.2 L325.6,414.6 L326.3,412.0 L326.9,409.3 L327.6,406.8 L328.2,404.3 L328.9,401.7 L329.5,399.2 L330.2,396.9 L330.8,395.0 L331.4,393.6 L332.1,392.6 L332.7,391.7 L333.4,390.9 L334.0,389.7 L334.6,388.2 L335.3,386.4 L335.9,384.5 L336.5,382.8 L337.1,381.2 L337.6,379.9 L338.0,378.6 L338.4,377.5 L338.9,376.5 L339.3,375.8 L339.8,375.2 L340.3,374.8 L340.8,374.6 L341.3,374.6 L341.8,374.8 L342.2,375.1 L342.5,375.6 L342.8,376.3 L343.1,377.4 L343.5,379.0 L343.9,381.3 L344.3,384.1 L344.8,387.3 L345.3,390.7 L345.7,394.0 L346.1,397.4 L346.5,401.1 L346.9,404.7 L347.3,408.1 L347.8,411.0 L348.3,413.5 L348.8,415.7 L349.4,417.5 L349.9,418.8 L350.4,419.6 L350.9,419.7 L351.3,419.3 L351.7,418.4 L352.1,417.0 L352.5,415.3 L352.9,413.1 L353.4,410.4 L353.8,407.3 L354.2,404.0 L354.6,400.4 L355.0,396.6 L355.3,392.5 L355.6,388.2 L356.0,383.7 L356.3,379.0 L356.6,374.0 L357.0,368.5 L357.3,363.0 L357.6,357.8 L358.0,353.4 L358.4,349.7 L358.9,346.5 L359.3,343.7 L359.8,341.4 L360.2,339.5 L360.6,338.0 L360.9,337.0 L361.2,336.4 L361.6,336.2 L361.9,336.3 L362.3,336.8 L362.7,337.7 L363.1,338.9 L363.4,340.3 L363.8,341.7 L364.1,343.3 L364.4,345.1 L364.7,347.0 L365.0,348.7 L365.3,350.2 L365.7,351.2 L366.1,351.9 L366.5,352.4 L366.9,353.2 L367.4,354.5 L367.9,356.3 L368.5,358.6 L369.0,361.1 L369.6,363.7 L370.2,366.2 L370.8,368.7 L371.5,371.3 L372.1,374.0 L372.8,376.6 L373.4,379.0 L374.0,381.3 L374.7,383.5 L375.3,385.6 L376.0,387.7 L376.6,389.7 L377.2,391.8 L377.9,393.9 L378.6,396.0 L379.2,397.8 L379.8,399.3 L380.3,400.4 L380.8,401.3 L381.3,401.9 L381.8,402.3 L382.4,402.5 L383.0,402.5 L383.7,402.1 L384.5,401.7 L385.2,401.0 L385.8,400.4 L386.4,399.7 L386.9,399.0 L387.3,398.2 L387.8,397.3 L388.3,396.1 L388.8,394.7 L389.4,393.2 L389.9,391.5 L390.4,389.6 L390.9,387.6 L391.4,385.2 L391.8,382.5 L392.2,379.7 L392.6,377.1 L393.0,374.8 L393.3,372.8 L393.6,371.0 L393.8,369.5 L394.0,368.4 L394.3,367.9 L394.6,368.3 L395.0,369.6 L395.3,371.2 L395.6,372.7 L395.8,373.7" fill="none" stroke="#2a7bc4" stroke-width="1.5" stroke-linejoin="round"/>
<path d="M411.8,369.4 L412.3,370.2 L413.0,371.3 L413.9,372.5 L414.8,373.8 L415.7,374.8 L416.7,375.6 L417.7,376.2 L418.8,376.8 L419.9,377.4 L421.0,378.0 L422.1,378.6 L423.1,379.3 L424.2,379.9 L425.2,380.6 L426.3,381.2 L427.4,381.7 L428.5,382.2 L429.5,382.7 L430.6,383.4 L431.7,384.4 L432.8,385.9 L433.8,387.8 L434.9,389.9 L435.9,392.0 L437.0,394.0 L438.1,395.7 L439.1,397.4 L440.2,399.0 L441.2,400.7 L442.3,402.5 L443.4,404.6 L444.5,407.0 L445.6,409.3 L446.7,411.5 L447.7,413.2 L448.6,414.5 L449.4,415.5 L450.2,416.3 L451.0,416.8 L451.9,417.0 L452.9,416.9 L454.0,416.3 L455.1,415.6 L456.2,414.8 L457.3,414.2 L458.3,413.7 L459.4,413.3 L460.4,412.9 L461.5,412.5 L462.6,412.1 L463.8,411.7 L465.1,411.3 L466.5,410.9 L467.8,410.5 L469.0,410.0 L470.1,409.5 L471.3,409.0 L472.3,408.4 L473.3,407.7 L474.3,406.8 L475.2,405.7 L476.1,404.5 L476.9,403.2 L477.7,401.8 L478.5,400.4 L479.4,398.9 L480.2,397.2 L481.1,395.6 L481.9,394.1 L482.8,392.9 L483.7,392.0 L484.6,391.4 L485.5,391.0 L486.3,390.8 L487.1,390.8 L487.8,391.0 L488.5,391.4 L489.1,392.1 L489.7,392.9 L490.3,394.0 L490.9,395.4 L491.5,397.0 L492.1,398.8 L492.8,400.7 L493.5,402.5 L494.3,404.5 L495.1,406.9 L496.0,409.1 L496.8,410.7 L497.7,411.0 L498.6,409.8 L499.4,407.4 L500.3,404.3 L501.1,401.1 L502.0,398.2 L502.8,395.7 L503.7,393.1 L504.5,390.6 L505.4,388.0 L506.3,385.4 L507.3,382.5 L508.4,379.4 L509.6,376.4 L510.7,373.7 L511.6,371.6 L512.4,370.2 L513.0,369.4 L513.6,368.9 L514.2,368.8 L514.8,368.8 L515.4,369.1 L516.0,369.6 L516.6,370.4 L517.3,371.4 L518.0,372.6 L518.8,374.1 L519.7,376.0 L520.6,378.0 L521.5,379.8 L522.3,381.2 L523.0,382.2 L523.7,383.0 L524.3,383.5 L524.9,383.6 L525.5,383.3 L526.2,382.2 L526.9,380.4 L527.5,378.3 L528.2,376.6 L528.7,375.8 L529.1,376.1 L529.5,377.3 L529.8,378.8 L530.0,380.3 L530.2,381.2" fill="none" stroke="#6a6a6a" stroke-width="0.9" stroke-dasharray="1.2 0.9"/>
<path d="M411.8,365.8 L412.0,366.0 L412.3,366.2 L412.7,366.6 L413.1,367.2 L413.5,368.3 L413.9,370.1 L414.3,372.5 L414.8,375.1 L415.3,377.4 L415.7,379.0 L416.1,379.6 L416.5,379.4 L416.9,379.0 L417.3,378.7 L417.8,379.0 L418.4,380.3 L419.0,382.2 L419.7,384.2 L420.4,385.8 L421.0,386.5 L421.6,386.0 L422.2,384.6 L422.7,382.7 L423.3,380.7 L423.8,379.0 L424.3,377.4 L424.8,375.6 L425.3,374.0 L425.8,372.6 L426.3,371.6 L426.8,371.1 L427.3,370.9 L427.8,371.0 L428.4,371.4 L428.9,372.2 L429.4,373.4 L430.0,375.1 L430.5,377.1 L431.1,379.2 L431.7,381.2 L432.3,383.3 L432.9,385.6 L433.5,387.9 L434.2,390.0 L434.9,391.8 L435.7,393.1 L436.5,394.0 L437.4,394.8 L438.2,395.8 L439.1,397.2 L440.0,399.2 L440.8,401.5 L441.7,404.0 L442.5,406.5 L443.4,408.9 L444.3,411.2 L445.2,413.6 L446.1,415.9 L447.0,418.0 L447.7,419.6 L448.3,420.9 L448.8,421.9 L449.2,422.7 L449.6,423.0 L450.2,422.8 L450.9,422.0 L451.6,420.6 L452.4,418.9 L453.3,417.0 L454.1,415.3 L455.0,413.6 L455.9,411.7 L456.8,409.9 L457.6,408.2 L458.4,406.8 L459.0,405.7 L459.5,404.9 L460.0,404.2 L460.4,403.8 L460.9,403.6 L461.4,403.7 L462.0,404.1 L462.5,404.6 L463.1,405.2 L463.7,405.7 L464.3,406.1 L464.9,406.6 L465.5,407.0 L466.2,407.4 L466.9,407.8 L467.7,408.1 L468.6,408.4 L469.5,408.6 L470.4,408.8 L471.2,408.9 L471.9,409.0 L472.6,409.2 L473.2,409.3 L473.8,409.2 L474.3,408.9 L474.8,408.4 L475.2,407.8 L475.5,407.1 L475.9,406.0 L476.4,404.6 L477.0,402.7 L477.6,400.4 L478.3,397.8 L479.0,395.2 L479.6,392.9 L480.2,390.8 L480.8,388.7 L481.3,386.7 L481.9,384.8 L482.4,383.3 L482.9,381.9 L483.3,380.6 L483.7,379.5 L484.1,378.9 L484.5,379.0 L484.8,379.8 L485.1,381.2 L485.4,383.1 L485.7,385.3 L486.0,387.6 L486.4,390.2 L486.8,393.1 L487.2,396.2 L487.6,399.4 L488.1,402.5 L488.6,405.6 L489.2,408.8 L489.8,411.9 L490.3,414.9 L490.9,417.4 L491.4,419.7 L491.9,421.9 L492.4,423.7 L492.9,425.0 L493.5,425.5 L494.1,425.2 L494.7,424.3 L495.4,422.8 L496.1,420.9 L496.7,418.5 L497.3,415.7 L498.0,412.3 L498.6,408.6 L499.2,404.5 L499.9,400.4 L500.6,396.1 L501.4,391.6 L502.2,386.9 L502.9,382.0 L503.7,376.9 L504.4,371.5 L505.2,365.7 L505.9,359.8 L506.6,354.2 L507.3,349.1 L507.9,344.5 L508.6,340.3 L509.2,336.4 L509.8,332.9 L510.5,329.9 L511.3,327.2 L512.2,324.8 L513.1,322.9 L514.0,321.7 L514.8,321.4 L515.4,322.2 L515.9,323.9 L516.4,326.3 L516.9,329.1 L517.4,332.1 L518.0,335.4 L518.7,339.2 L519.5,343.2 L520.2,347.3 L520.8,351.3 L521.4,355.2 L521.9,359.3 L522.4,363.3 L522.9,367.1 L523.4,370.5 L523.9,373.8 L524.3,377.1 L524.7,380.1 L525.1,382.1 L525.5,382.9 L525.9,382.1 L526.2,379.9 L526.6,376.9 L526.9,373.6 L527.2,370.5 L527.5,367.2 L527.7,363.4 L527.9,359.7 L528.1,356.5 L528.3,354.5 L528.5,353.7 L528.7,353.8 L528.9,354.6 L529.1,355.9 L529.3,357.7 L529.5,360.3 L529.7,363.9 L529.9,367.8 L530.1,371.3 L530.2,373.7" fill="none" stroke="#2a7bc4" stroke-width="1.5" stroke-linejoin="round"/>
<path d="M546.4,386.5 L546.7,386.6 L547.1,386.7 L547.6,387.0 L548.0,387.5 L548.5,388.6 L548.9,390.4 L549.4,392.9 L549.8,395.7 L550.2,398.3 L550.7,400.4 L551.2,401.9 L551.6,402.9 L552.1,403.8 L552.6,404.7 L553.2,405.7 L553.9,407.1 L554.7,408.7 L555.5,410.3 L556.3,411.6 L557.1,412.1 L557.8,411.7 L558.4,410.7 L559.1,409.3 L559.7,407.8 L560.3,406.8 L560.9,406.2 L561.5,405.8 L562.1,405.5 L562.8,405.1 L563.5,404.6 L564.3,404.0 L565.1,403.3 L566.0,402.5 L566.8,401.6 L567.7,400.4 L568.6,399.0 L569.4,397.4 L570.3,395.6 L571.1,393.7 L572.0,391.8 L572.9,389.6 L573.7,387.0 L574.6,384.5 L575.4,382.4 L576.3,381.2 L577.1,381.0 L578.0,381.4 L578.8,382.4 L579.7,383.8 L580.5,385.4 L581.4,387.4 L582.2,389.9 L583.1,392.7 L583.9,395.5 L584.8,398.2 L585.7,400.9 L586.6,403.7 L587.5,406.4 L588.3,408.9 L589.1,411.0 L589.8,412.6 L590.4,413.9 L591.0,414.9 L591.6,415.7 L592.3,416.4 L593.1,416.9 L593.9,417.1 L594.8,417.1 L595.7,417.2 L596.6,417.4 L597.6,417.8 L598.8,418.4 L599.9,418.9 L601.0,419.4 L601.9,419.6 L602.6,419.7 L603.2,419.7 L603.8,419.6 L604.3,419.2 L605.0,418.5 L605.8,417.4 L606.6,415.9 L607.5,414.2 L608.4,412.5 L609.3,411.0 L610.2,409.6 L611.0,408.2 L611.9,406.8 L612.7,405.6 L613.5,404.6 L614.2,403.8 L614.9,403.2 L615.5,402.8 L616.1,402.6 L616.7,402.5 L617.3,402.7 L617.8,403.3 L618.3,403.9 L618.9,404.5 L619.5,404.6 L620.2,404.3 L620.8,403.6 L621.6,402.8 L622.3,402.0 L623.1,401.4 L623.9,401.1 L624.8,400.9 L625.6,400.8 L626.5,400.6 L627.4,400.4 L628.3,399.9 L629.2,399.3 L630.1,398.7 L630.9,398.2 L631.7,398.2 L632.4,398.5 L633.0,399.1 L633.6,400.0 L634.2,401.1 L634.9,402.5 L635.7,404.3 L636.5,406.6 L637.4,409.0 L638.2,411.3 L639.1,413.2 L640.0,414.7 L640.8,416.1 L641.7,417.3 L642.5,418.1 L643.4,418.5 L644.3,418.4 L645.2,417.8 L646.1,416.9 L646.9,416.0 L647.7,415.3 L648.4,414.8 L649.0,414.3 L649.6,413.9 L650.3,413.6 L650.9,413.6 L651.6,414.1 L652.3,415.2 L653.0,416.3 L653.8,416.8 L654.5,416.4 L655.3,414.6 L656.1,411.8 L656.9,408.5 L657.7,405.2 L658.4,402.5 L659.1,400.4 L659.8,398.6 L660.4,396.9 L661.0,395.4 L661.6,393.9 L662.2,392.4 L662.8,390.9 L663.4,389.6 L663.9,388.4 L664.3,387.6" fill="none" stroke="#6a6a6a" stroke-width="0.9" stroke-dasharray="1.2 0.9"/>
<path d="M546.4,369.4 L546.6,369.3 L546.8,369.0 L547.1,368.9 L547.4,368.9 L547.7,369.4 L548.0,370.2 L548.2,371.2 L548.5,372.5 L548.7,374.4 L549.0,376.9 L549.3,380.5 L549.7,385.2 L550.0,390.2 L550.4,394.7 L550.7,398.2 L551.0,400.4 L551.4,401.7 L551.7,402.4 L552.0,403.0 L552.4,403.6 L552.8,404.4 L553.2,405.2 L553.6,405.9 L554.1,406.1 L554.5,405.7 L554.9,404.6 L555.3,403.1 L555.7,401.0 L556.1,398.7 L556.6,396.1 L557.1,393.2 L557.6,389.8 L558.2,386.2 L558.7,382.5 L559.2,379.0 L559.7,375.5 L560.1,371.8 L560.5,368.3 L560.9,364.9 L561.3,361.9 L561.7,359.4 L562.2,357.2 L562.6,355.2 L563.0,353.3 L563.5,351.3 L564.0,349.2 L564.5,347.2 L565.0,345.2 L565.5,343.0 L566.0,340.6 L566.6,337.7 L567.1,334.4 L567.7,331.1 L568.3,328.1 L568.8,325.7 L569.3,324.0 L569.7,322.8 L570.1,322.0 L570.5,321.5 L570.9,321.4 L571.3,321.7 L571.8,322.4 L572.2,323.3 L572.7,324.5 L573.1,325.7 L573.5,327.0 L573.9,328.6 L574.4,330.3 L574.8,331.8 L575.2,333.1 L575.6,334.2 L576.0,335.2 L576.5,335.9 L576.9,336.4 L577.3,336.3 L577.7,335.4 L578.2,333.7 L578.7,331.9 L579.1,330.3 L579.5,329.5 L579.9,329.5 L580.2,330.1 L580.5,331.0 L580.8,332.4 L581.2,334.2 L581.6,336.4 L582.1,339.1 L582.6,342.2 L583.1,345.5 L583.7,349.1 L584.3,352.9 L584.9,357.0 L585.6,361.3 L586.2,365.8 L586.9,370.5 L587.5,375.4 L588.2,380.6 L588.8,386.0 L589.5,391.2 L590.1,396.1 L590.7,400.7 L591.2,405.0 L591.8,409.2 L592.3,413.3 L592.9,417.4 L593.5,421.9 L594.1,426.8 L594.8,431.4 L595.4,435.2 L595.9,437.7 L596.4,438.6 L596.8,438.3 L597.2,437.1 L597.5,435.4 L598.0,433.4 L598.5,431.0 L599.1,428.1 L599.6,424.7 L600.2,421.1 L600.8,417.4 L601.4,413.5 L602.0,409.4 L602.7,405.0 L603.3,400.6 L604.0,396.1 L604.7,391.4 L605.5,386.3 L606.2,381.3 L606.9,376.6 L607.6,372.6 L608.2,369.5 L608.7,366.9 L609.2,364.8 L609.7,362.9 L610.3,360.9 L610.9,358.9 L611.6,357.0 L612.3,355.2 L612.9,353.6 L613.5,352.3 L614.0,351.2 L614.5,350.3 L614.9,349.6 L615.3,349.4 L615.7,349.6 L616.1,350.3 L616.4,351.2 L616.7,352.7 L617.0,354.8 L617.4,357.7 L617.8,362.2 L618.3,368.4 L618.9,374.7 L619.4,380.0 L619.9,382.9 L620.4,382.9 L620.9,380.7 L621.4,377.4 L622.0,373.7 L622.5,370.5 L623.0,367.6 L623.6,364.5 L624.2,361.5 L624.7,358.7 L625.3,356.6 L625.8,355.2 L626.4,354.2 L626.9,353.6 L627.5,353.4 L628.0,353.4 L628.5,353.6 L629.0,354.0 L629.5,354.7 L630.0,355.9 L630.6,357.7 L631.2,360.2 L631.8,363.4 L632.5,367.0 L633.2,370.9 L633.8,374.8 L634.4,378.9 L635.1,383.2 L635.7,387.7 L636.4,392.0 L637.0,396.1 L637.6,399.9 L638.2,403.6 L638.8,407.0 L639.5,410.3 L640.2,413.2 L641.0,415.8 L641.8,418.2 L642.7,420.3 L643.6,422.2 L644.5,423.8 L645.4,425.3 L646.2,426.5 L647.1,427.5 L647.9,428.2 L648.7,428.5 L649.4,428.4 L650.1,428.0 L650.7,427.3 L651.3,426.3 L651.9,424.9 L652.5,423.3 L653.2,421.6 L653.8,419.4 L654.5,416.7 L655.1,413.2 L655.8,408.6 L656.4,403.1 L657.1,397.1 L657.7,391.1 L658.4,385.4 L659.1,380.0 L659.7,374.5 L660.4,369.2 L661.0,364.3 L661.6,359.8 L662.2,355.7 L662.8,351.9 L663.4,348.6 L663.9,345.8 L664.3,343.8" fill="none" stroke="#2a7bc4" stroke-width="1.5" stroke-linejoin="round"/>
<path d="M296.2,541.2V534.4M312.5,541.2V522.5M340.9,541.2V522.5M343.5,541.2V522.5M348.2,541.2V523.9M352.7,541.2V527.8M354.5,541.2V502.8M344.0,541.2V520.0" stroke="#999" stroke-width="0.85" fill="none"/>
<path d="M277.6,541.2V540.5M278.2,541.2V539.7M278.8,541.2V539.8M279.4,541.2V539.6M280.0,541.2V540.5M280.5,541.2V540.6M281.3,541.2V538.8M281.8,541.2V540.4M282.5,541.2V540.5M282.9,541.2V540.5M283.4,541.2V540.0M284.2,541.2V540.5M285.0,541.2V540.1M285.7,541.2V539.6M286.2,541.2V540.0M286.6,541.2V540.6M287.1,541.2V539.7M287.7,541.2V540.5M288.4,541.2V539.1M288.9,541.2V540.2M289.5,541.2V539.2M289.9,541.2V540.1M290.7,541.2V540.0M291.4,541.2V539.7M292.0,541.2V540.4M292.6,541.2V540.1M293.1,541.2V539.4M293.6,541.2V540.2M294.3,541.2V539.6M295.0,541.2V540.0M295.5,541.2V539.5M296.3,541.2V539.8M297.0,541.2V540.2M297.5,541.2V540.1M297.9,541.2V539.9M298.7,541.2V540.5M299.4,541.2V539.9M299.8,541.2V540.6M300.4,541.2V540.5M300.9,541.2V540.0M301.5,541.2V539.8M302.1,541.2V540.4M302.5,541.2V540.5M302.9,541.2V540.2M303.6,541.2V540.5M304.1,541.2V538.9M304.7,541.2V539.9M305.3,541.2V540.0M305.8,541.2V540.1M306.5,541.2V540.5M307.2,541.2V539.4M307.6,541.2V540.5M308.1,541.2V540.5M308.5,541.2V540.0M308.9,541.2V540.6M309.6,541.2V540.3M310.2,541.2V540.2M310.7,541.2V540.2M311.2,541.2V540.1M311.6,541.2V540.5M312.1,541.2V540.3M312.9,541.2V540.1M313.7,541.2V540.3M314.1,541.2V539.9M314.6,541.2V538.4M315.1,541.2V540.4M315.6,541.2V540.4M316.3,541.2V538.4M316.9,541.2V540.4M317.3,541.2V540.5M317.8,541.2V540.0M318.4,541.2V539.4M319.1,541.2V540.3M319.8,541.2V540.2M320.4,541.2V540.5M321.2,541.2V540.6M321.9,541.2V540.3M322.6,541.2V540.5M323.3,541.2V540.6M324.0,541.2V539.9M324.6,541.2V540.5M325.1,541.2V540.2M325.6,541.2V540.5M326.3,541.2V540.1M326.8,541.2V540.0M327.4,541.2V540.5M328.0,541.2V540.1M328.4,541.2V540.4M329.1,541.2V540.1M329.6,541.2V540.3M330.1,541.2V539.9M330.9,541.2V540.5M331.3,541.2V540.3M331.6,541.2V540.5M332.0,541.2V540.5M332.6,541.2V540.5M333.2,541.2V538.6M333.7,541.2V539.7M334.3,541.2V540.5M335.0,541.2V539.8M335.6,541.2V539.3M336.0,541.2V539.5M336.7,541.2V540.5M337.5,541.2V539.7M338.2,541.2V540.4M338.9,541.2V539.7M339.4,541.2V540.6M339.8,541.2V540.2M340.4,541.2V540.5M341.0,541.2V540.6M341.6,541.2V540.2M342.0,541.2V540.6M342.8,541.2V539.5M343.4,541.2V540.6M344.0,541.2V538.6M344.7,541.2V539.9M345.0,541.2V540.1M345.5,541.2V538.4M345.8,541.2V540.4M346.6,541.2V540.5M347.1,541.2V540.4M347.8,541.2V539.9M348.6,541.2V540.5M349.0,541.2V540.3M349.7,541.2V540.0M350.4,541.2V539.9M350.8,541.2V540.4M351.3,541.2V540.4M351.9,541.2V540.2M352.6,541.2V540.6M353.4,541.2V540.5M354.0,541.2V539.5M354.4,541.2V540.1M355.2,541.2V540.6M355.8,541.2V540.3M356.3,541.2V540.5M356.7,541.2V540.4M357.2,541.2V540.4M357.9,541.2V538.8M358.4,541.2V540.6M358.9,541.2V539.4M359.3,541.2V539.9M359.7,541.2V540.3M360.1,541.2V540.0M360.6,541.2V539.7M361.2,541.2V540.3M361.6,541.2V539.5M361.9,541.2V540.2M362.7,541.2V539.7M363.3,541.2V539.0M363.7,541.2V540.1M364.3,541.2V539.8M364.8,541.2V540.3M365.3,541.2V539.1M366.0,541.2V540.4M366.7,541.2V540.0M367.1,541.2V540.2M367.5,541.2V540.5M367.9,541.2V540.5M368.5,541.2V539.5M369.3,541.2V540.5M370.1,541.2V540.4M370.7,541.2V540.1M371.3,541.2V539.9M372.0,541.2V539.9M372.6,541.2V539.4M373.3,541.2V540.3M374.1,541.2V540.3M374.5,541.2V538.6M375.2,541.2V540.1M375.9,541.2V539.9M376.3,541.2V539.6M376.9,541.2V538.6M377.5,541.2V540.4M378.2,541.2V540.1M378.9,541.2V540.6M379.6,541.2V539.2M380.0,541.2V540.5M380.6,541.2V540.0M381.2,541.2V540.1M381.7,541.2V539.9M382.5,541.2V540.2M383.1,541.2V538.5M383.5,541.2V540.1M384.2,541.2V539.7M384.9,541.2V539.9M385.5,541.2V538.6M385.8,541.2V540.3M386.4,541.2V539.8M386.8,541.2V540.5M387.4,541.2V540.0M388.0,541.2V539.4M388.5,541.2V540.5M389.2,541.2V540.3M389.5,541.2V540.3M389.9,541.2V540.0M390.7,541.2V539.8M290.4,541.2V533.0M289.3,541.2V538.3M291.2,541.2V539.8M292.3,541.2V501.0M292.2,541.2V535.1M291.7,541.2V530.9M293.0,541.2V521.2M292.7,541.2V536.9M293.6,541.2V535.1M295.0,541.2V539.4M297.0,541.2V540.5M307.5,541.2V534.4M308.2,541.2V540.5M307.3,541.2V539.7M311.1,541.2V538.9M313.0,541.2V537.8M339.5,541.2V523.9M339.6,541.2V538.6M339.8,541.2V534.6M341.7,541.2V537.3M342.3,541.2V537.4M342.2,541.2V526.5M341.5,541.2V537.9M343.7,541.2V538.0M342.9,541.2V536.3M343.9,541.2V535.1M346.6,541.2V501.0M347.2,541.2V529.1M346.3,541.2V531.9M349.6,541.2V536.9M349.0,541.2V537.6M350.0,541.2V502.8M348.5,541.2V532.9M350.1,541.2V532.8M349.3,541.2V516.0M348.4,541.2V537.5M347.9,541.2V533.3M350.8,541.2V514.0M350.9,541.2V531.8M351.9,541.2V532.3M351.5,541.2V518.0M352.4,541.2V532.6M352.7,541.2V533.2M353.9,541.2V538.5M354.2,541.2V536.3M355.4,541.2V527.6M355.2,541.2V530.7M345.0,541.2V528.0M345.1,541.2V536.2M344.4,541.2V537.3M347.5,541.2V530.0M348.8,541.2V539.2M346.5,541.2V539.0M343.8,541.2V535.9M343.2,541.2V537.5M341.0,541.2V530.0M339.9,541.2V538.5M339.9,541.2V538.9M340.2,541.2V524.0M339.2,541.2V536.2M340.6,541.2V538.3M343.0,541.2V520.0M344.5,541.2V537.3M344.2,541.2V537.2M345.2,541.2V515.0M345.4,541.2V533.9M345.4,541.2V535.9M347.0,541.2V518.0M347.9,541.2V534.5M347.2,541.2V535.5M348.8,541.2V512.0M348.1,541.2V534.7M349.5,541.2V532.1M351.0,541.2V510.0M352.5,541.2V531.3M352.5,541.2V535.0M352.0,541.2V520.0M351.3,541.2V532.7M351.8,541.2V535.4M353.2,541.2V516.0M354.3,541.2V537.7M352.1,541.2V535.2" stroke="#111" stroke-width="0.8" fill="none"/>
<line x1="277.3" y1="541.2" x2="390.8" y2="541.2" stroke="#222" stroke-width="1.1"/>
<line x1="277.3" y1="501.0" x2="277.3" y2="541.2" stroke="#bbb" stroke-width="0.5"/>
<path d="M290.4,600.6V579.0M291.7,600.6V577.7M302.0,600.6V594.8M312.5,600.6V595.6M339.5,600.6V587.7M341.4,600.6V589.5M354.5,600.6V567.2" stroke="#999" stroke-width="0.85" fill="none"/>
<path d="M277.6,600.6V600.0M278.0,600.6V599.6M278.5,600.6V599.3M278.9,600.6V600.0M279.5,600.6V599.9M279.8,600.6V599.9M280.4,600.6V599.9M281.1,600.6V599.9M281.8,600.6V599.8M282.2,600.6V599.8M282.8,600.6V599.8M283.5,600.6V600.0M283.9,600.6V600.0M284.5,600.6V599.3M285.0,600.6V599.4M285.4,600.6V599.9M286.0,600.6V599.5M286.7,600.6V599.9M287.3,600.6V599.9M288.0,600.6V599.7M288.7,600.6V599.5M289.5,600.6V599.8M290.3,600.6V599.9M291.0,600.6V600.0M291.7,600.6V599.2M292.3,600.6V599.8M293.0,600.6V599.4M293.7,600.6V599.9M294.3,600.6V600.0M294.9,600.6V599.9M295.5,600.6V600.0M296.1,600.6V600.0M296.6,600.6V598.7M297.3,600.6V599.6M297.8,600.6V600.0M298.1,600.6V599.7M298.9,600.6V599.5M299.4,600.6V598.8M299.8,600.6V600.0M300.4,600.6V599.8M300.8,600.6V599.1M301.3,600.6V599.8M301.6,600.6V600.0M302.4,600.6V598.8M303.0,600.6V600.0M303.5,600.6V599.9M303.8,600.6V599.4M304.4,600.6V600.0M304.8,600.6V599.8M305.4,600.6V599.7M305.8,600.6V599.4M306.2,600.6V599.8M306.9,600.6V600.0M307.3,600.6V598.4M307.9,600.6V599.9M308.6,600.6V600.0M309.3,600.6V600.0M309.7,600.6V599.9M310.3,600.6V599.3M310.8,600.6V599.5M311.3,600.6V599.8M312.0,600.6V599.9M312.6,600.6V599.9M313.1,600.6V599.6M313.6,600.6V600.0M314.4,600.6V599.5M315.0,600.6V599.4M315.7,600.6V600.0M316.0,600.6V599.8M316.6,600.6V599.6M317.0,600.6V599.9M317.5,600.6V598.5M317.9,600.6V598.9M318.5,600.6V599.8M318.9,600.6V599.8M319.4,600.6V600.0M320.0,600.6V599.1M320.8,600.6V599.6M321.3,600.6V599.3M321.6,600.6V599.6M322.3,600.6V599.9M322.8,600.6V599.8M323.5,600.6V599.7M324.0,600.6V599.4M324.6,600.6V599.5M325.1,600.6V599.9M325.6,600.6V599.9M326.3,600.6V599.6M326.8,600.6V599.7M327.5,600.6V598.9M327.9,600.6V600.0M328.6,600.6V599.0M329.3,600.6V599.7M330.1,600.6V599.2M330.5,600.6V599.6M331.2,600.6V599.9M331.9,600.6V599.2M332.5,600.6V599.8M333.1,600.6V599.4M333.7,600.6V598.4M334.3,600.6V599.9M334.7,600.6V599.6M335.3,600.6V599.7M336.1,600.6V599.3M336.8,600.6V599.7M337.3,600.6V599.8M337.8,600.6V599.8M338.6,600.6V599.7M339.3,600.6V599.7M339.8,600.6V599.3M340.5,600.6V599.8M341.0,600.6V599.6M341.7,600.6V600.0M342.1,600.6V599.6M342.6,600.6V599.9M343.4,600.6V599.7M343.8,600.6V599.1M344.3,600.6V600.0M344.7,600.6V599.9M345.4,600.6V599.6M346.1,600.6V599.6M346.8,600.6V599.9M347.3,600.6V599.8M348.0,600.6V599.8M348.7,600.6V599.9M349.3,600.6V599.7M349.7,600.6V600.0M350.3,600.6V599.9M350.8,600.6V599.2M351.5,600.6V599.6M352.1,600.6V599.9M352.5,600.6V599.9M353.0,600.6V599.9M353.5,600.6V599.7M354.2,600.6V599.7M354.6,600.6V599.8M355.1,600.6V599.9M355.9,600.6V599.9M356.6,600.6V599.9M357.2,600.6V599.9M357.9,600.6V599.6M358.6,600.6V598.0M359.1,600.6V599.8M359.7,600.6V599.6M360.5,600.6V599.7M361.0,600.6V599.3M361.4,600.6V599.7M361.9,600.6V599.7M362.4,600.6V600.0M363.1,600.6V598.9M363.7,600.6V600.0M364.4,600.6V599.9M365.1,600.6V600.0M365.7,600.6V599.4M366.2,600.6V599.8M367.0,600.6V600.0M367.5,600.6V600.0M368.0,600.6V599.4M368.4,600.6V599.7M369.1,600.6V599.4M369.8,600.6V599.6M370.4,600.6V599.2M371.1,600.6V599.9M371.5,600.6V599.6M372.0,600.6V599.0M372.5,600.6V599.9M373.1,600.6V599.8M373.6,600.6V599.8M374.1,600.6V599.3M374.9,600.6V599.9M375.4,600.6V600.0M376.0,600.6V597.8M376.5,600.6V599.9M376.9,600.6V599.9M377.7,600.6V599.6M378.4,600.6V599.3M378.8,600.6V599.6M379.6,600.6V599.4M380.3,600.6V599.9M380.8,600.6V599.8M381.2,600.6V599.6M381.9,600.6V599.8M382.3,600.6V599.8M383.1,600.6V600.0M383.7,600.6V599.8M384.1,600.6V599.2M384.7,600.6V599.3M385.1,600.6V599.9M385.6,600.6V599.6M385.9,600.6V599.6M386.3,600.6V600.0M386.7,600.6V599.7M387.4,600.6V597.8M387.8,600.6V599.8M388.5,600.6V599.6M389.0,600.6V599.9M389.4,600.6V599.9M390.2,600.6V599.4M289.1,600.6V595.9M290.9,600.6V593.0M291.5,600.6V594.1M292.0,600.6V593.5M292.3,600.6V593.5M293.8,600.6V598.4M293.4,600.6V598.9M302.4,600.6V598.7M300.8,600.6V599.8M313.0,600.6V599.5M311.3,600.6V599.6M317.7,600.6V581.7M317.4,600.6V596.7M317.1,600.6V596.3M339.1,600.6V598.5M339.2,600.6V597.5M342.3,600.6V597.8M341.1,600.6V597.9M350.0,600.6V581.7M349.3,600.6V596.3M349.3,600.6V595.6M354.3,600.6V588.7M353.3,600.6V587.6" stroke="#111" stroke-width="0.8" fill="none"/>
<line x1="277.3" y1="600.6" x2="390.8" y2="600.6" stroke="#222" stroke-width="1.1"/>
<line x1="277.3" y1="559.6" x2="277.3" y2="600.6" stroke="#bbb" stroke-width="0.5"/>
<path d="M425.0,541.2V531.6M427.2,541.2V501.0M429.4,541.2V501.0M442.6,541.2V536.0M483.1,541.2V521.7M491.4,541.2V534.9M505.0,541.2V501.0M506.0,541.2V501.0M512.0,541.2V511.9M516.6,541.2V531.6M526.9,541.2V501.0" stroke="#999" stroke-width="0.85" fill="none"/>
<path d="M412.9,541.2V540.1M413.3,541.2V538.6M414.1,541.2V540.2M414.8,541.2V540.5M415.2,541.2V540.4M415.9,541.2V540.5M416.7,541.2V540.6M417.1,541.2V540.5M417.8,541.2V540.3M418.3,541.2V540.4M419.0,541.2V540.3M419.4,541.2V540.3M419.9,541.2V540.5M420.6,541.2V539.9M421.3,541.2V539.3M421.8,541.2V540.3M422.4,541.2V540.3M423.0,541.2V540.6M423.6,541.2V540.1M424.1,541.2V540.6M424.7,541.2V540.6M425.3,541.2V540.5M425.7,541.2V540.5M426.1,541.2V540.5M426.7,541.2V539.8M427.3,541.2V540.0M427.8,541.2V540.2M428.6,541.2V540.4M429.3,541.2V539.9M430.0,541.2V540.6M430.3,541.2V540.6M430.9,541.2V538.8M431.6,541.2V539.5M432.0,541.2V539.9M432.7,541.2V539.6M433.4,541.2V540.5M433.8,541.2V539.7M434.5,541.2V539.3M435.1,541.2V539.3M435.5,541.2V538.7M436.2,541.2V540.4M436.6,541.2V540.1M437.3,541.2V540.3M437.6,541.2V540.4M438.4,541.2V540.5M439.1,541.2V540.4M439.6,541.2V540.5M440.4,541.2V539.2M440.9,541.2V540.5M441.5,541.2V539.3M441.9,541.2V540.0M442.6,541.2V540.2M443.2,541.2V539.6M443.7,541.2V540.4M444.3,541.2V540.1M444.9,541.2V540.4M445.7,541.2V540.4M446.3,541.2V539.3M446.9,541.2V540.6M447.3,541.2V540.6M447.7,541.2V540.5M448.2,541.2V540.3M448.8,541.2V539.9M449.4,541.2V539.9M450.0,541.2V539.9M450.5,541.2V540.5M451.1,541.2V540.4M451.8,541.2V539.8M452.3,541.2V540.3M452.8,541.2V540.4M453.2,541.2V540.6M454.0,541.2V539.8M454.5,541.2V539.9M455.0,541.2V539.9M455.8,541.2V539.7M456.3,541.2V538.4M457.1,541.2V540.6M457.6,541.2V540.2M458.1,541.2V540.0M458.5,541.2V539.8M459.3,541.2V540.6M459.9,541.2V540.4M460.6,541.2V539.9M461.3,541.2V539.6M461.8,541.2V539.8M462.3,541.2V539.8M462.8,541.2V540.4M463.3,541.2V540.5M464.0,541.2V540.5M464.4,541.2V540.5M464.8,541.2V539.8M465.5,541.2V539.9M466.2,541.2V540.2M466.6,541.2V540.5M467.2,541.2V539.8M467.9,541.2V540.2M468.4,541.2V540.1M469.1,541.2V540.4M469.9,541.2V539.2M470.5,541.2V540.2M470.9,541.2V540.5M471.3,541.2V540.0M472.0,541.2V538.4M472.6,541.2V538.4M473.1,541.2V540.5M473.5,541.2V540.4M474.1,541.2V538.4M474.6,541.2V540.4M475.3,541.2V540.3M475.9,541.2V540.5M476.6,541.2V539.1M477.3,541.2V539.0M477.8,541.2V540.6M478.3,541.2V539.2M478.8,541.2V540.5M479.2,541.2V540.5M479.8,541.2V539.0M480.5,541.2V539.7M481.2,541.2V540.5M481.9,541.2V540.4M482.5,541.2V540.6M483.3,541.2V540.5M483.9,541.2V539.9M484.5,541.2V539.9M485.0,541.2V539.7M485.8,541.2V540.0M486.6,541.2V539.5M487.0,541.2V539.9M487.4,541.2V540.0M487.9,541.2V539.4M488.3,541.2V538.8M488.6,541.2V540.6M489.0,541.2V540.5M489.8,541.2V539.5M490.5,541.2V540.5M491.2,541.2V539.6M491.9,541.2V540.4M492.7,541.2V539.8M493.3,541.2V540.4M493.8,541.2V539.7M494.4,541.2V540.2M495.2,541.2V540.3M495.9,541.2V540.6M496.5,541.2V539.9M496.9,541.2V539.9M497.3,541.2V540.0M498.0,541.2V540.5M498.8,541.2V540.4M499.2,541.2V540.2M499.5,541.2V540.5M500.2,541.2V540.5M500.8,541.2V539.3M501.4,541.2V539.6M502.1,541.2V540.5M502.5,541.2V539.7M503.2,541.2V539.4M503.9,541.2V540.2M504.7,541.2V539.8M505.4,541.2V539.1M505.8,541.2V539.8M506.4,541.2V540.6M506.8,541.2V539.8M507.4,541.2V540.1M507.9,541.2V540.1M508.6,541.2V538.4M509.2,541.2V539.8M509.6,541.2V540.5M510.2,541.2V539.5M510.6,541.2V540.5M511.2,541.2V540.4M511.6,541.2V540.5M512.2,541.2V539.7M512.6,541.2V539.6M513.0,541.2V540.4M513.6,541.2V540.6M514.1,541.2V540.5M514.6,541.2V539.3M515.0,541.2V539.8M515.8,541.2V540.4M516.5,541.2V540.4M517.2,541.2V540.1M517.7,541.2V539.3M518.4,541.2V540.4M519.0,541.2V540.4M519.4,541.2V538.9M520.2,541.2V540.5M521.0,541.2V539.8M521.4,541.2V540.5M521.9,541.2V539.3M522.6,541.2V540.4M523.2,541.2V539.0M523.6,541.2V540.5M524.2,541.2V539.9M524.9,541.2V539.3M525.3,541.2V540.5M525.7,541.2V540.1M526.2,541.2V539.1M526.8,541.2V540.0M421.7,541.2V529.4M420.8,541.2V536.9M422.8,541.2V537.1M422.4,541.2V502.7M423.2,541.2V535.4M421.1,541.2V533.1M425.7,541.2V539.7M426.1,541.2V537.8M426.1,541.2V501.0M426.7,541.2V531.3M425.1,541.2V527.4M426.2,541.2V531.2M428.0,541.2V529.5M428.3,541.2V501.0M427.5,541.2V526.6M427.8,541.2V532.1M429.2,541.2V528.7M428.0,541.2V529.5M431.6,541.2V533.8M431.6,541.2V538.7M431.2,541.2V539.2M434.9,541.2V536.0M436.3,541.2V540.6M435.8,541.2V539.9M436.4,541.2V526.1M435.8,541.2V538.4M435.6,541.2V535.9M437.5,541.2V501.0M436.6,541.2V525.6M437.5,541.2V533.7M443.4,541.2V539.8M443.8,541.2V540.5M459.6,541.2V529.4M460.2,541.2V539.9M458.7,541.2V538.6M460.5,541.2V533.8M459.9,541.2V539.8M460.7,541.2V538.8M482.8,541.2V536.3M483.9,541.2V537.9M492.9,541.2V540.5M491.0,541.2V539.0M501.7,541.2V519.6M500.9,541.2V536.9M500.7,541.2V532.7M502.8,541.2V521.7M503.9,541.2V538.8M502.9,541.2V538.4M503.6,541.2V534.5M505.6,541.2V530.8M505.4,541.2V530.2M504.7,541.2V533.1M508.2,541.2V501.0M507.0,541.2V527.2M507.8,541.2V528.6M511.5,541.2V534.6M512.2,541.2V536.0M512.6,541.2V526.1M512.7,541.2V536.2M511.3,541.2V538.8M515.2,541.2V538.8M515.4,541.2V538.7M518.5,541.2V523.9M517.5,541.2V536.7M517.8,541.2V535.6M521.4,541.2V528.3M522.3,541.2V536.2M521.3,541.2V536.5M523.6,541.2V502.0M524.7,541.2V533.3M525.0,541.2V526.0M525.3,541.2V518.5M524.3,541.2V533.8M525.9,541.2V534.7M527.5,541.2V533.8M527.9,541.2V528.5" stroke="#111" stroke-width="0.8" fill="none"/>
<line x1="412.6" y1="541.2" x2="526.9" y2="541.2" stroke="#222" stroke-width="1.1"/>
<line x1="412.6" y1="501.0" x2="412.6" y2="541.2" stroke="#bbb" stroke-width="0.5"/>
<path d="M413.6,600.6V589.6M427.7,600.6V591.2M449.1,600.6V596.2M483.1,600.6V580.9" stroke="#999" stroke-width="0.85" fill="none"/>
<path d="M412.9,600.6V600.0M413.4,600.6V600.0M413.9,600.6V599.5M414.5,600.6V599.8M415.2,600.6V599.8M416.0,600.6V599.7M416.4,600.6V599.7M416.9,600.6V599.7M417.4,600.6V599.6M417.8,600.6V599.9M418.3,600.6V599.9M418.7,600.6V599.5M419.4,600.6V600.0M420.0,600.6V600.0M420.6,600.6V599.8M421.2,600.6V599.5M421.9,600.6V599.6M422.4,600.6V600.0M423.0,600.6V599.7M423.8,600.6V599.3M424.2,600.6V599.8M424.9,600.6V599.8M425.6,600.6V600.0M426.2,600.6V599.4M427.0,600.6V599.8M427.4,600.6V599.7M427.9,600.6V599.6M428.4,600.6V599.9M429.0,600.6V599.5M429.6,600.6V599.7M430.2,600.6V599.7M430.6,600.6V599.8M431.3,600.6V599.7M432.0,600.6V598.9M432.4,600.6V599.5M432.9,600.6V600.0M433.4,600.6V599.8M433.9,600.6V599.3M434.5,600.6V599.5M435.0,600.6V599.0M435.8,600.6V599.9M436.5,600.6V600.0M437.0,600.6V599.2M437.5,600.6V600.0M437.9,600.6V598.5M438.6,600.6V598.8M439.1,600.6V599.9M439.8,600.6V600.0M440.4,600.6V599.9M440.8,600.6V599.5M441.3,600.6V598.4M442.0,600.6V599.7M442.6,600.6V599.9M443.4,600.6V600.0M444.1,600.6V599.7M444.8,600.6V599.7M445.3,600.6V599.9M445.8,600.6V599.6M446.3,600.6V599.4M446.9,600.6V600.0M447.3,600.6V599.3M447.9,600.6V599.9M448.5,600.6V599.7M449.2,600.6V599.8M449.9,600.6V600.0M450.7,600.6V599.6M451.2,600.6V600.0M451.6,600.6V599.6M452.3,600.6V599.7M452.7,600.6V600.0M453.2,600.6V600.0M453.7,600.6V600.0M454.2,600.6V599.7M454.9,600.6V600.0M455.4,600.6V599.9M455.8,600.6V599.8M456.2,600.6V599.9M456.6,600.6V599.3M457.1,600.6V599.6M457.8,600.6V599.6M458.4,600.6V599.9M458.9,600.6V599.8M459.4,600.6V599.8M459.8,600.6V599.7M460.3,600.6V600.0M460.8,600.6V600.0M461.4,600.6V599.7M462.2,600.6V599.9M462.8,600.6V599.5M463.3,600.6V599.8M463.9,600.6V600.0M464.4,600.6V599.2M465.2,600.6V599.2M465.6,600.6V599.6M466.2,600.6V599.9M466.7,600.6V599.6M467.2,600.6V599.1M467.7,600.6V599.3M468.4,600.6V599.8M469.0,600.6V599.2M469.7,600.6V599.9M470.1,600.6V599.7M470.8,600.6V599.7M471.3,600.6V599.6M471.9,600.6V599.8M472.6,600.6V599.6M473.4,600.6V600.0M474.1,600.6V599.5M474.6,600.6V599.9M475.1,600.6V599.7M475.7,600.6V599.8M476.4,600.6V599.7M477.0,600.6V599.6M477.8,600.6V599.9M478.2,600.6V599.8M478.9,600.6V599.2M479.5,600.6V599.9M480.1,600.6V599.3M480.8,600.6V599.9M481.2,600.6V599.8M481.6,600.6V599.9M482.3,600.6V599.5M482.9,600.6V599.1M483.6,600.6V599.9M484.1,600.6V599.9M484.9,600.6V599.8M485.4,600.6V599.3M486.2,600.6V599.8M486.6,600.6V599.9M487.0,600.6V599.6M487.4,600.6V598.2M488.1,600.6V599.8M488.7,600.6V599.4M489.1,600.6V599.6M489.8,600.6V599.7M490.6,600.6V599.9M490.9,600.6V599.9M491.7,600.6V599.9M492.2,600.6V600.0M492.8,600.6V599.9M493.3,600.6V600.0M493.7,600.6V600.0M494.5,600.6V599.5M494.9,600.6V599.9M495.4,600.6V599.8M496.0,600.6V599.6M496.6,600.6V600.0M497.2,600.6V600.0M497.8,600.6V600.0M498.3,600.6V599.9M498.9,600.6V599.8M499.6,600.6V600.0M500.1,600.6V599.8M500.7,600.6V600.0M501.3,600.6V599.7M502.0,600.6V598.7M502.7,600.6V599.9M503.4,600.6V599.8M503.7,600.6V599.7M504.2,600.6V599.9M504.8,600.6V599.9M505.6,600.6V599.2M506.0,600.6V598.7M506.5,600.6V599.7M507.2,600.6V599.9M507.9,600.6V599.8M508.4,600.6V599.4M508.9,600.6V599.5M509.7,600.6V599.8M510.5,600.6V599.5M511.2,600.6V599.7M511.9,600.6V600.0M512.3,600.6V599.4M513.0,600.6V599.6M513.8,600.6V599.2M514.5,600.6V599.2M515.1,600.6V600.0M515.6,600.6V599.3M516.2,600.6V599.9M516.7,600.6V599.8M517.0,600.6V599.6M517.6,600.6V599.0M518.3,600.6V599.8M518.7,600.6V599.7M519.5,600.6V599.5M520.0,600.6V600.0M520.4,600.6V599.7M520.8,600.6V599.2M521.3,600.6V599.7M522.0,600.6V599.8M522.6,600.6V600.0M523.4,600.6V598.4M524.2,600.6V599.8M524.5,600.6V600.0M525.1,600.6V599.8M525.7,600.6V599.4M526.5,600.6V599.6M413.9,600.6V597.7M413.2,600.6V598.5M429.1,600.6V597.5M428.2,600.6V599.5M431.6,600.6V580.9M432.5,600.6V596.7M431.2,600.6V596.2M436.4,600.6V579.8M437.2,600.6V597.2M436.6,600.6V598.1M449.8,600.6V599.9M450.0,600.6V599.8M460.1,600.6V580.9M460.1,600.6V598.6M459.4,600.6V598.4M481.5,600.6V585.2M480.6,600.6V597.1M480.1,600.6V596.9M482.0,600.6V596.6M481.8,600.6V596.0M504.3,600.6V591.8M504.0,600.6V598.6M504.5,600.6V599.4M512.2,600.6V582.0M513.4,600.6V597.5M510.7,600.6V594.7M519.2,600.6V597.3M520.2,600.6V599.8M520.7,600.6V599.7M523.6,600.6V589.6M522.8,600.6V599.4M524.2,600.6V597.2" stroke="#111" stroke-width="0.8" fill="none"/>
<line x1="412.6" y1="600.6" x2="526.9" y2="600.6" stroke="#222" stroke-width="1.1"/>
<line x1="412.6" y1="559.6" x2="412.6" y2="600.6" stroke="#bbb" stroke-width="0.5"/>
<path d="M548.6,541.2V518.5M552.1,541.2V520.7M556.9,541.2V522.8M575.1,541.2V501.0M575.8,541.2V501.0M576.6,541.2V501.0M594.1,541.2V532.7M598.5,541.2V528.3M600.3,541.2V527.2M613.8,541.2V514.0M625.4,541.2V518.5M634.6,541.2V521.7M636.8,541.2V530.5" stroke="#999" stroke-width="0.85" fill="none"/>
<path d="M544.9,541.2V540.5M545.5,541.2V540.5M546.2,541.2V540.0M546.7,541.2V540.0M547.3,541.2V540.6M547.9,541.2V540.0M548.5,541.2V539.3M549.2,541.2V540.3M549.6,541.2V540.5M550.3,541.2V539.9M551.0,541.2V540.3M551.5,541.2V540.4M552.1,541.2V540.5M552.8,541.2V540.0M553.4,541.2V540.4M553.8,541.2V540.4M554.5,541.2V540.2M555.2,541.2V540.3M555.7,541.2V539.2M556.1,541.2V540.5M556.7,541.2V540.0M557.3,541.2V540.1M557.8,541.2V539.9M558.6,541.2V539.6M559.2,541.2V540.2M560.0,541.2V540.2M560.6,541.2V539.4M561.3,541.2V540.3M562.0,541.2V540.0M562.7,541.2V540.0M563.3,541.2V538.4M563.9,541.2V540.3M564.7,541.2V538.9M565.1,541.2V540.6M565.8,541.2V539.3M566.4,541.2V540.4M567.0,541.2V538.9M567.5,541.2V540.2M568.1,541.2V540.5M568.6,541.2V540.5M569.2,541.2V540.4M569.6,541.2V540.3M570.0,541.2V540.5M570.4,541.2V540.3M570.9,541.2V539.8M571.5,541.2V540.4M571.9,541.2V540.4M572.6,541.2V540.5M573.1,541.2V539.6M573.9,541.2V540.2M574.6,541.2V540.0M575.0,541.2V540.5M575.5,541.2V539.7M576.0,541.2V539.5M576.8,541.2V539.1M577.3,541.2V540.6M577.8,541.2V540.5M578.5,541.2V539.9M579.2,541.2V539.9M580.0,541.2V540.0M580.6,541.2V539.5M581.0,541.2V539.7M581.7,541.2V539.4M582.1,541.2V540.5M582.9,541.2V540.5M583.4,541.2V540.0M584.0,541.2V539.3M584.8,541.2V540.3M585.2,541.2V539.1M585.7,541.2V540.4M586.1,541.2V540.6M586.8,541.2V540.4M587.4,541.2V539.1M587.9,541.2V538.8M588.3,541.2V539.7M589.0,541.2V538.7M589.4,541.2V540.2M590.0,541.2V540.1M590.5,541.2V540.4M591.3,541.2V539.3M591.9,541.2V538.7M592.5,541.2V540.6M593.2,541.2V540.5M593.9,541.2V540.0M594.3,541.2V540.5M594.7,541.2V540.5M595.5,541.2V540.4M596.3,541.2V540.5M596.8,541.2V540.2M597.3,541.2V538.6M597.7,541.2V540.2M598.2,541.2V540.5M598.8,541.2V540.4M599.4,541.2V539.9M599.8,541.2V540.6M600.4,541.2V538.4M600.8,541.2V540.2M601.6,541.2V539.5M602.4,541.2V540.1M603.2,541.2V540.6M603.7,541.2V539.5M604.3,541.2V540.3M604.8,541.2V540.3M605.5,541.2V538.4M606.0,541.2V540.4M606.7,541.2V539.8M607.4,541.2V539.9M608.2,541.2V539.5M608.8,541.2V540.4M609.2,541.2V539.4M609.9,541.2V539.3M610.4,541.2V539.8M611.2,541.2V540.5M611.5,541.2V540.5M612.0,541.2V539.9M612.7,541.2V539.6M613.4,541.2V538.4M614.2,541.2V540.3M614.9,541.2V539.8M615.4,541.2V540.1M615.8,541.2V540.3M616.5,541.2V540.6M617.1,541.2V540.3M617.6,541.2V540.6M618.2,541.2V540.4M618.6,541.2V540.3M619.2,541.2V540.6M619.9,541.2V540.5M620.5,541.2V540.3M621.2,541.2V539.3M621.9,541.2V540.4M622.4,541.2V539.6M623.0,541.2V540.0M623.7,541.2V540.5M624.2,541.2V538.7M624.7,541.2V539.5M625.1,541.2V540.6M625.7,541.2V540.4M626.3,541.2V539.7M626.7,541.2V540.2M627.2,541.2V539.2M627.9,541.2V539.3M628.6,541.2V540.3M629.2,541.2V540.1M629.7,541.2V540.4M630.4,541.2V539.2M630.8,541.2V540.3M631.3,541.2V540.3M631.8,541.2V540.5M632.4,541.2V540.3M633.1,541.2V540.4M633.8,541.2V538.4M634.3,541.2V540.3M635.0,541.2V540.3M635.5,541.2V540.5M636.3,541.2V540.4M637.0,541.2V540.1M637.4,541.2V538.4M638.2,541.2V539.8M638.8,541.2V539.8M639.6,541.2V540.5M640.0,541.2V539.7M640.6,541.2V538.4M641.3,541.2V540.2M641.7,541.2V540.0M642.4,541.2V540.1M643.1,541.2V540.2M643.8,541.2V540.1M644.2,541.2V539.6M644.7,541.2V539.2M645.4,541.2V540.5M645.9,541.2V539.9M646.4,541.2V540.3M647.1,541.2V540.4M647.5,541.2V540.1M648.3,541.2V538.7M648.7,541.2V539.8M649.2,541.2V538.5M649.7,541.2V540.5M650.2,541.2V540.2M650.6,541.2V539.7M651.1,541.2V539.8M651.6,541.2V540.2M652.2,541.2V540.5M652.7,541.2V539.5M653.2,541.2V540.3M653.8,541.2V539.9M654.6,541.2V540.1M655.3,541.2V539.3M656.1,541.2V539.1M656.7,541.2V539.9M657.3,541.2V540.5M658.0,541.2V540.3M658.5,541.2V540.1M544.9,541.2V501.0M545.9,541.2V535.8M545.8,541.2V525.8M550.0,541.2V532.5M548.8,541.2V532.9M549.9,541.2V525.0M550.2,541.2V535.5M551.4,541.2V537.8M551.0,541.2V534.5M553.4,541.2V533.6M555.4,541.2V517.4M555.3,541.2V535.6M554.3,541.2V532.7M556.2,541.2V538.7M555.7,541.2V534.2M559.1,541.2V501.0M558.8,541.2V527.6M557.8,541.2V531.4M563.5,541.2V527.2M564.2,541.2V536.6M562.6,541.2V537.8M566.3,541.2V520.7M567.2,541.2V533.5M565.1,541.2V535.5M568.3,541.2V514.0M569.5,541.2V533.4M569.2,541.2V536.1M571.6,541.2V531.6M571.6,541.2V540.2M572.5,541.2V538.6M574.1,541.2V525.8M574.2,541.2V536.8M576.5,541.2V536.2M576.3,541.2V535.5M575.2,541.2V528.3M576.9,541.2V529.2M589.3,541.2V534.9M589.9,541.2V539.2M588.3,541.2V539.8M594.4,541.2V538.1M594.5,541.2V539.1M599.5,541.2V536.6M597.7,541.2V539.2M598.8,541.2V536.1M599.4,541.2V537.4M603.3,541.2V534.9M603.4,541.2V539.3M604.6,541.2V539.3M612.8,541.2V535.0M612.9,541.2V535.4M614.9,541.2V501.0M615.6,541.2V529.3M615.3,541.2V526.8M613.0,541.2V522.8M614.5,541.2V538.0M613.6,541.2V535.8M615.5,541.2V518.0M614.1,541.2V532.0M615.2,541.2V534.2M612.0,541.2V528.0M611.2,541.2V538.2M610.9,541.2V536.0M616.5,541.2V526.0M615.1,541.2V539.3M617.2,541.2V537.1M619.3,541.2V504.2M618.8,541.2V527.1M619.9,541.2V532.5M621.5,541.2V531.6M622.1,541.2V537.5M622.6,541.2V539.2M626.2,541.2V537.4M625.1,541.2V532.2M626.5,541.2V529.4M627.2,541.2V538.6M626.6,541.2V538.5M632.0,541.2V509.7M632.6,541.2V533.1M631.9,541.2V534.1M635.7,541.2V534.5M633.8,541.2V536.9M638.0,541.2V537.8M637.1,541.2V538.1M640.1,541.2V529.4M639.2,541.2V538.0M640.8,541.2V538.5M643.4,541.2V528.3M643.1,541.2V538.2M643.7,541.2V539.1M646.2,541.2V517.4M647.2,541.2V538.4M647.0,541.2V535.1M650.4,541.2V517.4M649.7,541.2V537.0M649.7,541.2V537.7M653.2,541.2V533.8M654.7,541.2V539.8M652.0,541.2V539.0M611.0,541.2V525.0M612.4,541.2V538.2M610.2,541.2V536.7M612.5,541.2V520.0M612.0,541.2V536.2M612.7,541.2V532.7M614.0,541.2V512.0M613.6,541.2V535.1M614.6,541.2V533.3M616.0,541.2V522.0M617.1,541.2V536.8M616.4,541.2V536.3M617.5,541.2V527.0M617.8,541.2V537.7M616.5,541.2V539.3M546.0,541.2V525.0M545.7,541.2V534.7M546.0,541.2V537.2M547.5,541.2V528.0M547.3,541.2V536.8M547.1,541.2V538.3M551.0,541.2V526.0M550.5,541.2V537.1M550.9,541.2V536.9M553.5,541.2V530.0M554.8,541.2V538.9M553.9,541.2V536.7M557.5,541.2V527.0M558.2,541.2V536.2M558.4,541.2V538.9" stroke="#111" stroke-width="0.8" fill="none"/>
<line x1="544.6" y1="541.2" x2="658.7" y2="541.2" stroke="#222" stroke-width="1.1"/>
<line x1="544.6" y1="501.0" x2="544.6" y2="541.2" stroke="#bbb" stroke-width="0.5"/>
<path d="M553.0,600.6V584.2M559.1,600.6V592.9M578.8,600.6V595.1M600.3,600.6V585.9M617.8,600.6V579.8M622.1,600.6V579.8M650.4,600.6V595.1" stroke="#999" stroke-width="0.85" fill="none"/>
<path d="M544.9,600.6V599.5M545.5,600.6V599.8M546.0,600.6V599.6M546.8,600.6V599.8M547.5,600.6V600.0M548.1,600.6V599.9M548.7,600.6V599.7M549.4,600.6V599.7M550.1,600.6V599.9M550.5,600.6V599.8M551.2,600.6V599.6M551.6,600.6V599.9M552.0,600.6V599.8M552.8,600.6V599.9M553.2,600.6V599.2M553.9,600.6V599.5M554.3,600.6V599.9M554.7,600.6V599.1M555.1,600.6V600.0M555.5,600.6V599.5M556.0,600.6V598.6M556.5,600.6V599.6M556.9,600.6V599.9M557.7,600.6V597.9M558.1,600.6V599.8M558.5,600.6V599.9M559.0,600.6V599.7M559.6,600.6V599.8M560.0,600.6V599.7M560.5,600.6V599.9M561.3,600.6V599.7M561.7,600.6V598.9M562.5,600.6V599.8M563.3,600.6V600.0M564.0,600.6V599.9M564.8,600.6V599.6M565.5,600.6V599.9M566.2,600.6V599.0M566.6,600.6V599.9M567.2,600.6V599.9M567.6,600.6V600.0M568.1,600.6V599.6M568.6,600.6V599.7M569.0,600.6V600.0M569.6,600.6V599.9M570.0,600.6V600.0M570.6,600.6V598.9M571.2,600.6V600.0M571.6,600.6V599.6M572.3,600.6V599.9M572.9,600.6V600.0M573.5,600.6V599.5M574.1,600.6V599.5M574.5,600.6V599.6M575.1,600.6V599.7M575.5,600.6V599.8M576.1,600.6V599.9M576.7,600.6V600.0M577.2,600.6V599.0M577.9,600.6V599.8M578.6,600.6V599.6M579.2,600.6V599.8M579.9,600.6V599.7M580.5,600.6V599.8M580.9,600.6V599.9M581.5,600.6V599.7M582.2,600.6V599.8M582.8,600.6V599.7M583.2,600.6V598.9M583.9,600.6V599.9M584.4,600.6V599.4M585.2,600.6V599.6M585.9,600.6V599.4M586.5,600.6V599.8M587.0,600.6V600.0M587.6,600.6V599.7M588.3,600.6V599.9M589.1,600.6V599.5M589.7,600.6V599.9M590.5,600.6V599.6M591.2,600.6V599.9M591.6,600.6V599.9M592.4,600.6V599.8M593.0,600.6V599.6M593.7,600.6V599.9M594.2,600.6V598.8M594.6,600.6V597.8M595.1,600.6V600.0M595.6,600.6V599.5M596.1,600.6V599.9M596.5,600.6V600.0M597.1,600.6V599.8M597.8,600.6V600.0M598.3,600.6V599.7M598.8,600.6V599.6M599.2,600.6V599.5M599.9,600.6V599.8M600.5,600.6V599.9M601.3,600.6V599.5M601.8,600.6V599.3M602.4,600.6V599.3M603.1,600.6V599.1M603.7,600.6V599.9M604.4,600.6V599.1M604.9,600.6V599.6M605.6,600.6V599.9M606.0,600.6V599.7M606.4,600.6V599.8M607.1,600.6V599.8M607.7,600.6V598.8M608.3,600.6V599.7M608.7,600.6V599.5M609.2,600.6V599.6M610.0,600.6V599.4M610.5,600.6V599.1M611.1,600.6V599.9M611.5,600.6V599.9M612.1,600.6V599.8M612.5,600.6V599.0M612.8,600.6V599.4M613.4,600.6V599.4M614.1,600.6V599.6M614.6,600.6V599.7M615.1,600.6V599.9M615.4,600.6V599.8M616.2,600.6V599.6M616.6,600.6V599.9M617.1,600.6V599.7M617.7,600.6V599.4M618.1,600.6V599.6M618.8,600.6V600.0M619.2,600.6V600.0M619.8,600.6V599.3M620.6,600.6V599.4M621.2,600.6V599.7M621.8,600.6V599.9M622.4,600.6V599.9M622.9,600.6V599.8M623.7,600.6V599.9M624.2,600.6V600.0M624.6,600.6V599.7M625.2,600.6V599.7M626.0,600.6V599.8M626.7,600.6V599.3M627.1,600.6V599.5M627.5,600.6V599.3M628.2,600.6V599.5M628.9,600.6V600.0M629.3,600.6V599.8M629.7,600.6V599.2M630.1,600.6V599.9M630.8,600.6V600.0M631.5,600.6V599.8M632.1,600.6V599.4M632.5,600.6V599.9M633.0,600.6V599.6M633.5,600.6V599.8M633.9,600.6V599.7M634.5,600.6V599.6M634.8,600.6V599.7M635.6,600.6V599.9M636.1,600.6V599.5M636.5,600.6V599.8M637.0,600.6V599.9M637.5,600.6V599.4M638.1,600.6V599.9M638.8,600.6V598.1M639.2,600.6V599.5M639.6,600.6V599.9M640.0,600.6V599.7M640.6,600.6V599.6M641.3,600.6V599.7M641.7,600.6V599.9M642.1,600.6V598.6M642.5,600.6V599.3M643.0,600.6V599.3M643.6,600.6V599.0M644.2,600.6V599.5M644.6,600.6V599.6M645.0,600.6V599.7M645.5,600.6V599.9M646.1,600.6V599.9M646.6,600.6V599.7M647.0,600.6V599.8M647.6,600.6V599.2M648.3,600.6V599.9M648.9,600.6V599.8M649.4,600.6V599.0M650.1,600.6V599.9M650.8,600.6V599.4M651.6,600.6V599.8M651.9,600.6V599.6M652.3,600.6V599.6M652.7,600.6V599.7M653.1,600.6V599.7M653.6,600.6V600.0M654.3,600.6V599.5M655.0,600.6V599.9M655.5,600.6V599.7M655.9,600.6V599.6M656.3,600.6V599.9M656.8,600.6V599.8M657.5,600.6V599.6M658.1,600.6V599.8M548.1,600.6V591.8M548.2,600.6V598.4M547.3,600.6V597.8M551.7,600.6V595.0M553.5,600.6V594.1M560.1,600.6V598.6M559.7,600.6V598.9M566.3,600.6V575.0M565.7,600.6V590.9M566.0,600.6V592.5M568.3,600.6V588.5M566.8,600.6V599.0M569.3,600.6V597.1M573.8,600.6V595.1M574.5,600.6V599.0M572.8,600.6V599.2M578.8,600.6V599.1M580.3,600.6V599.3M600.9,600.6V596.2M599.1,600.6V594.9M603.3,600.6V578.0M603.0,600.6V591.8M604.4,600.6V596.3M611.2,600.6V591.2M611.5,600.6V597.8M611.8,600.6V598.9M616.9,600.6V597.2M617.4,600.6V592.5M621.9,600.6V594.4M623.6,600.6V597.5M636.2,600.6V594.7M635.9,600.6V598.3M635.8,600.6V598.6M643.4,600.6V590.3M644.2,600.6V596.5M642.2,600.6V598.5M651.5,600.6V599.5M649.5,600.6V598.8M658.3,600.6V590.3M657.4,600.6V597.5M659.2,600.6V597.2" stroke="#111" stroke-width="0.8" fill="none"/>
<line x1="544.6" y1="600.6" x2="658.7" y2="600.6" stroke="#222" stroke-width="1.1"/>
<line x1="544.6" y1="559.6" x2="544.6" y2="600.6" stroke="#bbb" stroke-width="0.5"/>
<text x="262.0" y="517.6" font-size="10.8" fill="#222" text-anchor="middle" font-weight="normal" transform="rotate(-90 262.0 517.6)">ATAC-seq</text>
<text x="262.0" y="577.5" font-size="10.5" fill="#222" text-anchor="middle" font-weight="normal" transform="rotate(-90 262.0 577.5)">CTCF</text>
<text x="275.5" y="512.0" font-size="2.6" fill="#888" text-anchor="end" font-weight="normal">2000</text>
<text x="275.5" y="542.6" font-size="2.6" fill="#888" text-anchor="end" font-weight="normal">0</text>
<text x="275.5" y="561.5" font-size="2.6" fill="#888" text-anchor="end" font-weight="normal">2000</text>
<text x="411.1" y="542.6" font-size="2.6" fill="#888" text-anchor="end" font-weight="normal">0</text>
<text x="411.1" y="602.0" font-size="2.6" fill="#888" text-anchor="end" font-weight="normal">0</text>
<text x="543.1" y="542.6" font-size="2.6" fill="#888" text-anchor="end" font-weight="normal">0</text>
<text x="543.1" y="602.0" font-size="2.6" fill="#888" text-anchor="end" font-weight="normal">0</text>
<text x="275.5" y="602.0" font-size="2.6" fill="#888" text-anchor="end" font-weight="normal">0</text>
<text x="0" y="10.799999999999999" font-size="14.8" fill="#000" text-anchor="start" font-weight="bold">A</text>
<text x="0.5" y="395.5" font-size="14.4" fill="#000" text-anchor="start" font-weight="bold">B</text>
<text x="222.4" y="11.5" font-size="14.4" fill="#000" text-anchor="start" font-weight="bold">C</text>
<text x="222.5" y="315.4" font-size="14.4" fill="#000" text-anchor="start" font-weight="bold">D</text>
<text x="225.5" y="487.5" font-size="14.4" fill="#000" text-anchor="start" font-weight="bold">E</text>
</svg>
</body></html>
